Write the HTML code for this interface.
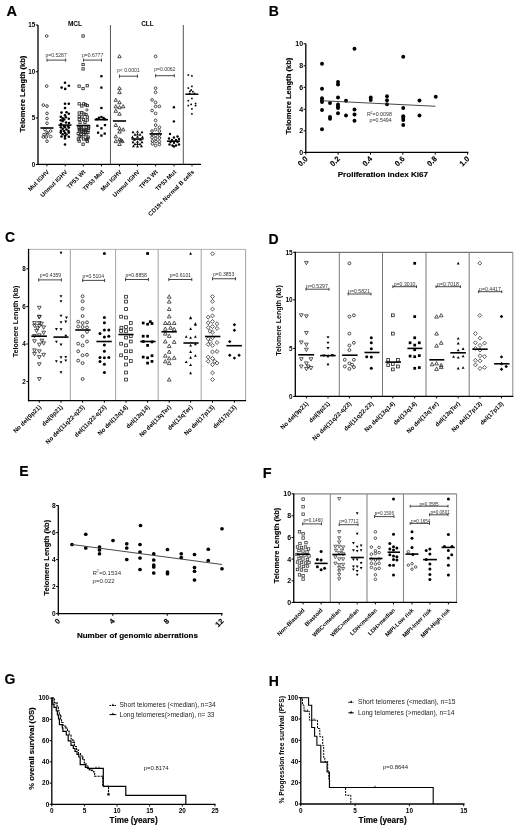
<!DOCTYPE html>
<html><head><meta charset="utf-8"><style>
html,body{margin:0;padding:0;background:#fff;}
svg{display:block;filter:blur(0.35px);}
text{font-family:"Liberation Sans", sans-serif;}
</style></head><body>
<svg width="520" height="828" viewBox="0 0 520 828">
<rect width="520" height="828" fill="#fff"/>
<text x="6.50" y="15.60" font-size="14.5" text-anchor="start" font-weight="bold" stroke="#000" stroke-width="0.15" fill="#000">A</text>
<line x1="38.00" y1="25.00" x2="38.00" y2="165.00" stroke="#000" stroke-width="1.3"/>
<line x1="37.40" y1="164.40" x2="201.00" y2="164.40" stroke="#000" stroke-width="1.3"/>
<line x1="110.45" y1="25.00" x2="110.45" y2="164.40" stroke="#555" stroke-width="1"/>
<line x1="183.30" y1="25.00" x2="183.30" y2="164.40" stroke="#555" stroke-width="1"/>
<line x1="35.80" y1="25.00" x2="38.00" y2="25.00" stroke="#000" stroke-width="1"/>
<text x="35.30" y="27.27" font-size="6.3" text-anchor="end" font-weight="bold" fill="#000">15</text>
<line x1="35.80" y1="71.75" x2="38.00" y2="71.75" stroke="#000" stroke-width="1"/>
<text x="35.30" y="74.02" font-size="6.3" text-anchor="end" font-weight="bold" fill="#000">10</text>
<line x1="35.80" y1="118.00" x2="38.00" y2="118.00" stroke="#000" stroke-width="1"/>
<text x="35.30" y="120.27" font-size="6.3" text-anchor="end" font-weight="bold" fill="#000">5</text>
<line x1="35.80" y1="164.50" x2="38.00" y2="164.50" stroke="#000" stroke-width="1"/>
<text x="35.30" y="166.77" font-size="6.3" text-anchor="end" font-weight="bold" fill="#000">0</text>
<text x="75.00" y="26.30" font-size="6.5" text-anchor="middle" font-weight="bold" fill="#000">MCL</text>
<text x="147.50" y="26.30" font-size="6.5" text-anchor="middle" font-weight="bold" fill="#000">CLL</text>
<line x1="46.90" y1="164.40" x2="46.90" y2="166.40" stroke="#000" stroke-width="1"/>
<text x="49.50" y="172.40" font-size="6.0" text-anchor="end" font-weight="bold" fill="#000" transform="rotate(-45 49.50 172.40)">Mut IGHV</text>
<line x1="65.20" y1="164.40" x2="65.20" y2="166.40" stroke="#000" stroke-width="1"/>
<text x="67.80" y="172.40" font-size="6.0" text-anchor="end" font-weight="bold" fill="#000" transform="rotate(-45 67.80 172.40)">Unmut IGHV</text>
<line x1="83.30" y1="164.40" x2="83.30" y2="166.40" stroke="#000" stroke-width="1"/>
<text x="85.90" y="172.40" font-size="6.0" text-anchor="end" font-weight="bold" fill="#000" transform="rotate(-45 85.90 172.40)">TP53 Wt</text>
<line x1="101.50" y1="164.40" x2="101.50" y2="166.40" stroke="#000" stroke-width="1"/>
<text x="104.10" y="172.40" font-size="6.0" text-anchor="end" font-weight="bold" fill="#000" transform="rotate(-45 104.10 172.40)">TP53 Mut</text>
<line x1="119.50" y1="164.40" x2="119.50" y2="166.40" stroke="#000" stroke-width="1"/>
<text x="122.10" y="172.40" font-size="6.0" text-anchor="end" font-weight="bold" fill="#000" transform="rotate(-45 122.10 172.40)">Mut IGHV</text>
<line x1="137.50" y1="164.40" x2="137.50" y2="166.40" stroke="#000" stroke-width="1"/>
<text x="140.10" y="172.40" font-size="6.0" text-anchor="end" font-weight="bold" fill="#000" transform="rotate(-45 140.10 172.40)">Unmut IGHV</text>
<line x1="155.60" y1="164.40" x2="155.60" y2="166.40" stroke="#000" stroke-width="1"/>
<text x="158.20" y="172.40" font-size="6.0" text-anchor="end" font-weight="bold" fill="#000" transform="rotate(-45 158.20 172.40)">TP53 Wt</text>
<line x1="174.00" y1="164.40" x2="174.00" y2="166.40" stroke="#000" stroke-width="1"/>
<text x="176.60" y="172.40" font-size="6.0" text-anchor="end" font-weight="bold" fill="#000" transform="rotate(-45 176.60 172.40)">TP53 Mut</text>
<line x1="192.00" y1="164.40" x2="192.00" y2="166.40" stroke="#000" stroke-width="1"/>
<text x="194.60" y="172.40" font-size="6.0" text-anchor="end" font-weight="bold" fill="#000" transform="rotate(-45 194.60 172.40)">CD19+ Normal B cells</text>
<circle cx="46.70" cy="36.00" r="1.35" fill="none" stroke="#222" stroke-width="0.8"/>
<circle cx="46.70" cy="86.10" r="1.35" fill="none" stroke="#222" stroke-width="0.8"/>
<circle cx="43.30" cy="105.10" r="1.35" fill="none" stroke="#222" stroke-width="0.8"/>
<circle cx="47.00" cy="106.10" r="1.35" fill="none" stroke="#222" stroke-width="0.8"/>
<circle cx="47.00" cy="113.40" r="1.35" fill="none" stroke="#222" stroke-width="0.8"/>
<circle cx="47.00" cy="118.50" r="1.35" fill="none" stroke="#222" stroke-width="0.8"/>
<circle cx="47.00" cy="123.30" r="1.35" fill="none" stroke="#222" stroke-width="0.8"/>
<circle cx="47.00" cy="132.40" r="1.35" fill="none" stroke="#222" stroke-width="0.8"/>
<circle cx="50.60" cy="131.00" r="1.35" fill="none" stroke="#222" stroke-width="0.8"/>
<circle cx="44.00" cy="134.60" r="1.35" fill="none" stroke="#222" stroke-width="0.8"/>
<circle cx="47.70" cy="133.90" r="1.35" fill="none" stroke="#222" stroke-width="0.8"/>
<circle cx="43.30" cy="137.00" r="1.35" fill="none" stroke="#222" stroke-width="0.8"/>
<circle cx="46.20" cy="137.00" r="1.35" fill="none" stroke="#222" stroke-width="0.8"/>
<circle cx="50.60" cy="136.50" r="1.35" fill="none" stroke="#222" stroke-width="0.8"/>
<circle cx="47.00" cy="141.20" r="1.35" fill="none" stroke="#222" stroke-width="0.8"/>
<circle cx="45.00" cy="129.50" r="1.35" fill="none" stroke="#222" stroke-width="0.8"/>
<line x1="40.40" y1="128.00" x2="53.50" y2="128.00" stroke="#000" stroke-width="1.6"/>
<circle cx="65.00" cy="82.70" r="1.30" fill="#000"/>
<circle cx="61.60" cy="87.60" r="1.30" fill="#000"/>
<circle cx="65.20" cy="88.90" r="1.30" fill="#000"/>
<circle cx="68.90" cy="85.70" r="1.30" fill="#000"/>
<circle cx="65.00" cy="103.80" r="1.30" fill="#000"/>
<circle cx="68.80" cy="103.80" r="1.30" fill="#000"/>
<circle cx="65.00" cy="108.00" r="1.30" fill="#000"/>
<circle cx="61.50" cy="112.60" r="1.30" fill="#000"/>
<circle cx="66.50" cy="112.20" r="1.30" fill="#000"/>
<circle cx="68.80" cy="113.80" r="1.30" fill="#000"/>
<circle cx="65.00" cy="115.30" r="1.30" fill="#000"/>
<circle cx="60.80" cy="116.80" r="1.30" fill="#000"/>
<circle cx="65.80" cy="117.20" r="1.30" fill="#000"/>
<circle cx="68.80" cy="118.80" r="1.30" fill="#000"/>
<circle cx="62.70" cy="118.40" r="1.30" fill="#000"/>
<circle cx="64.20" cy="119.50" r="1.30" fill="#000"/>
<circle cx="60.80" cy="120.30" r="1.30" fill="#000"/>
<circle cx="62.70" cy="121.10" r="1.30" fill="#000"/>
<circle cx="66.00" cy="122.50" r="1.30" fill="#000"/>
<circle cx="69.00" cy="123.00" r="1.30" fill="#000"/>
<circle cx="61.00" cy="124.00" r="1.30" fill="#000"/>
<circle cx="64.00" cy="126.00" r="1.30" fill="#000"/>
<circle cx="68.00" cy="126.00" r="1.30" fill="#000"/>
<circle cx="60.80" cy="127.20" r="1.30" fill="#000"/>
<circle cx="65.00" cy="127.20" r="1.30" fill="#000"/>
<circle cx="68.80" cy="127.60" r="1.30" fill="#000"/>
<circle cx="62.70" cy="128.80" r="1.30" fill="#000"/>
<circle cx="66.50" cy="129.50" r="1.30" fill="#000"/>
<circle cx="61.00" cy="130.80" r="1.30" fill="#000"/>
<circle cx="64.00" cy="131.00" r="1.30" fill="#000"/>
<circle cx="68.50" cy="131.00" r="1.30" fill="#000"/>
<circle cx="60.80" cy="132.60" r="1.30" fill="#000"/>
<circle cx="65.00" cy="133.00" r="1.30" fill="#000"/>
<circle cx="68.80" cy="132.60" r="1.30" fill="#000"/>
<circle cx="62.70" cy="134.20" r="1.30" fill="#000"/>
<circle cx="66.50" cy="134.50" r="1.30" fill="#000"/>
<circle cx="61.50" cy="136.50" r="1.30" fill="#000"/>
<circle cx="65.00" cy="136.10" r="1.30" fill="#000"/>
<circle cx="68.80" cy="136.80" r="1.30" fill="#000"/>
<circle cx="65.00" cy="138.40" r="1.30" fill="#000"/>
<circle cx="65.00" cy="144.50" r="1.30" fill="#000"/>
<line x1="58.50" y1="125.10" x2="71.50" y2="125.10" stroke="#000" stroke-width="1.6"/>
<rect x="81.95" y="34.85" width="2.30" height="2.30" fill="none" stroke="#222" stroke-width="0.8"/>
<rect x="81.95" y="63.35" width="2.30" height="2.30" fill="none" stroke="#222" stroke-width="0.8"/>
<rect x="81.95" y="67.75" width="2.30" height="2.30" fill="none" stroke="#222" stroke-width="0.8"/>
<rect x="77.95" y="84.95" width="2.30" height="2.30" fill="none" stroke="#222" stroke-width="0.8"/>
<rect x="81.95" y="87.45" width="2.30" height="2.30" fill="none" stroke="#222" stroke-width="0.8"/>
<rect x="86.05" y="84.55" width="2.30" height="2.30" fill="none" stroke="#222" stroke-width="0.8"/>
<rect x="78.05" y="102.65" width="2.30" height="2.30" fill="none" stroke="#222" stroke-width="0.8"/>
<rect x="80.65" y="104.85" width="2.30" height="2.30" fill="none" stroke="#222" stroke-width="0.8"/>
<rect x="82.65" y="102.65" width="2.30" height="2.30" fill="none" stroke="#222" stroke-width="0.8"/>
<rect x="84.45" y="103.65" width="2.30" height="2.30" fill="none" stroke="#222" stroke-width="0.8"/>
<rect x="86.15" y="104.35" width="2.30" height="2.30" fill="none" stroke="#222" stroke-width="0.8"/>
<rect x="78.05" y="111.85" width="2.30" height="2.30" fill="none" stroke="#222" stroke-width="0.8"/>
<rect x="80.65" y="111.45" width="2.30" height="2.30" fill="none" stroke="#222" stroke-width="0.8"/>
<rect x="82.85" y="112.85" width="2.30" height="2.30" fill="none" stroke="#222" stroke-width="0.8"/>
<rect x="84.85" y="113.35" width="2.30" height="2.30" fill="none" stroke="#222" stroke-width="0.8"/>
<rect x="78.05" y="115.35" width="2.30" height="2.30" fill="none" stroke="#222" stroke-width="0.8"/>
<rect x="80.85" y="115.85" width="2.30" height="2.30" fill="none" stroke="#222" stroke-width="0.8"/>
<rect x="86.15" y="115.85" width="2.30" height="2.30" fill="none" stroke="#222" stroke-width="0.8"/>
<rect x="78.05" y="118.35" width="2.30" height="2.30" fill="none" stroke="#222" stroke-width="0.8"/>
<rect x="82.35" y="118.35" width="2.30" height="2.30" fill="none" stroke="#222" stroke-width="0.8"/>
<rect x="86.15" y="118.85" width="2.30" height="2.30" fill="none" stroke="#222" stroke-width="0.8"/>
<rect x="78.85" y="121.35" width="2.30" height="2.30" fill="none" stroke="#222" stroke-width="0.8"/>
<rect x="83.85" y="121.35" width="2.30" height="2.30" fill="none" stroke="#222" stroke-width="0.8"/>
<rect x="78.05" y="139.95" width="2.30" height="2.30" fill="none" stroke="#222" stroke-width="0.8"/>
<rect x="86.15" y="140.35" width="2.30" height="2.30" fill="none" stroke="#222" stroke-width="0.8"/>
<rect x="81.95" y="143.05" width="2.30" height="2.30" fill="none" stroke="#222" stroke-width="0.8"/>
<rect x="77.81" y="126.29" width="2.30" height="2.30" fill="none" stroke="#222" stroke-width="0.8"/>
<rect x="80.23" y="126.40" width="2.30" height="2.30" fill="none" stroke="#222" stroke-width="0.8"/>
<rect x="85.03" y="126.01" width="2.30" height="2.30" fill="none" stroke="#222" stroke-width="0.8"/>
<rect x="87.61" y="125.89" width="2.30" height="2.30" fill="none" stroke="#222" stroke-width="0.8"/>
<rect x="78.18" y="128.04" width="2.30" height="2.30" fill="none" stroke="#222" stroke-width="0.8"/>
<rect x="79.82" y="127.84" width="2.30" height="2.30" fill="none" stroke="#222" stroke-width="0.8"/>
<rect x="82.58" y="128.18" width="2.30" height="2.30" fill="none" stroke="#222" stroke-width="0.8"/>
<rect x="85.27" y="128.45" width="2.30" height="2.30" fill="none" stroke="#222" stroke-width="0.8"/>
<rect x="87.27" y="127.31" width="2.30" height="2.30" fill="none" stroke="#222" stroke-width="0.8"/>
<rect x="78.23" y="129.55" width="2.30" height="2.30" fill="none" stroke="#222" stroke-width="0.8"/>
<rect x="80.53" y="130.20" width="2.30" height="2.30" fill="none" stroke="#222" stroke-width="0.8"/>
<rect x="82.24" y="129.49" width="2.30" height="2.30" fill="none" stroke="#222" stroke-width="0.8"/>
<rect x="84.26" y="129.88" width="2.30" height="2.30" fill="none" stroke="#222" stroke-width="0.8"/>
<rect x="86.92" y="129.41" width="2.30" height="2.30" fill="none" stroke="#222" stroke-width="0.8"/>
<rect x="77.09" y="132.37" width="2.30" height="2.30" fill="none" stroke="#222" stroke-width="0.8"/>
<rect x="82.00" y="131.36" width="2.30" height="2.30" fill="none" stroke="#222" stroke-width="0.8"/>
<rect x="84.63" y="131.23" width="2.30" height="2.30" fill="none" stroke="#222" stroke-width="0.8"/>
<rect x="86.69" y="131.42" width="2.30" height="2.30" fill="none" stroke="#222" stroke-width="0.8"/>
<rect x="80.02" y="133.65" width="2.30" height="2.30" fill="none" stroke="#222" stroke-width="0.8"/>
<rect x="82.79" y="133.58" width="2.30" height="2.30" fill="none" stroke="#222" stroke-width="0.8"/>
<rect x="84.83" y="133.68" width="2.30" height="2.30" fill="none" stroke="#222" stroke-width="0.8"/>
<rect x="78.10" y="135.17" width="2.30" height="2.30" fill="none" stroke="#222" stroke-width="0.8"/>
<rect x="79.98" y="135.59" width="2.30" height="2.30" fill="none" stroke="#222" stroke-width="0.8"/>
<rect x="87.04" y="136.01" width="2.30" height="2.30" fill="none" stroke="#222" stroke-width="0.8"/>
<rect x="77.15" y="137.99" width="2.30" height="2.30" fill="none" stroke="#222" stroke-width="0.8"/>
<rect x="82.36" y="137.86" width="2.30" height="2.30" fill="none" stroke="#222" stroke-width="0.8"/>
<rect x="85.30" y="138.50" width="2.30" height="2.30" fill="none" stroke="#222" stroke-width="0.8"/>
<rect x="86.47" y="137.71" width="2.30" height="2.30" fill="none" stroke="#222" stroke-width="0.8"/>
<circle cx="86.90" cy="109.90" r="1.10" fill="none" stroke="#222" stroke-width="0.8"/>
<line x1="76.50" y1="125.50" x2="90.10" y2="125.50" stroke="#000" stroke-width="1.6"/>
<rect x="100.26" y="75.06" width="2.28" height="2.28" fill="#000"/>
<rect x="100.26" y="86.46" width="2.28" height="2.28" fill="#000"/>
<rect x="100.26" y="106.86" width="2.28" height="2.28" fill="#000"/>
<rect x="100.26" y="115.86" width="2.28" height="2.28" fill="#000"/>
<rect x="95.56" y="118.06" width="2.28" height="2.28" fill="#000"/>
<rect x="103.56" y="118.06" width="2.28" height="2.28" fill="#000"/>
<rect x="97.86" y="116.66" width="2.28" height="2.28" fill="#000"/>
<rect x="102.36" y="116.86" width="2.28" height="2.28" fill="#000"/>
<rect x="96.26" y="124.66" width="2.28" height="2.28" fill="#000"/>
<rect x="103.86" y="123.96" width="2.28" height="2.28" fill="#000"/>
<rect x="100.26" y="127.16" width="2.28" height="2.28" fill="#000"/>
<rect x="96.96" y="131.56" width="2.28" height="2.28" fill="#000"/>
<rect x="103.56" y="132.46" width="2.28" height="2.28" fill="#000"/>
<rect x="100.26" y="134.46" width="2.28" height="2.28" fill="#000"/>
<line x1="94.50" y1="119.70" x2="108.00" y2="119.70" stroke="#000" stroke-width="1.6"/>
<polygon points="117.74,57.81 121.26,57.81 119.50,54.64" fill="none" stroke="#222" stroke-width="0.8"/>
<polygon points="117.74,89.61 121.26,89.61 119.50,86.44" fill="none" stroke="#222" stroke-width="0.8"/>
<polygon points="117.74,93.71 121.26,93.71 119.50,90.54" fill="none" stroke="#222" stroke-width="0.8"/>
<polygon points="114.04,101.31 117.56,101.31 115.80,98.14" fill="none" stroke="#222" stroke-width="0.8"/>
<polygon points="117.74,103.81 121.26,103.81 119.50,100.64" fill="none" stroke="#222" stroke-width="0.8"/>
<polygon points="114.04,107.81 117.56,107.81 115.80,104.64" fill="none" stroke="#222" stroke-width="0.8"/>
<polygon points="117.74,108.71 121.26,108.71 119.50,105.54" fill="none" stroke="#222" stroke-width="0.8"/>
<polygon points="121.44,107.81 124.96,107.81 123.20,104.64" fill="none" stroke="#222" stroke-width="0.8"/>
<polygon points="114.04,112.31 117.56,112.31 115.80,109.14" fill="none" stroke="#222" stroke-width="0.8"/>
<polygon points="117.74,115.21 121.26,115.21 119.50,112.04" fill="none" stroke="#222" stroke-width="0.8"/>
<polygon points="114.04,126.51 117.56,126.51 115.80,123.34" fill="none" stroke="#222" stroke-width="0.8"/>
<polygon points="117.74,129.71 121.26,129.71 119.50,126.54" fill="none" stroke="#222" stroke-width="0.8"/>
<polygon points="121.44,130.91 124.96,130.91 123.20,127.74" fill="none" stroke="#222" stroke-width="0.8"/>
<polygon points="117.74,133.11 121.26,133.11 119.50,129.94" fill="none" stroke="#222" stroke-width="0.8"/>
<polygon points="114.04,137.91 117.56,137.91 115.80,134.74" fill="none" stroke="#222" stroke-width="0.8"/>
<polygon points="117.74,140.81 121.26,140.81 119.50,137.64" fill="none" stroke="#222" stroke-width="0.8"/>
<polygon points="120.64,142.61 124.16,142.61 122.40,139.44" fill="none" stroke="#222" stroke-width="0.8"/>
<polygon points="114.04,142.61 117.56,142.61 115.80,139.44" fill="none" stroke="#222" stroke-width="0.8"/>
<polygon points="117.74,145.51 121.26,145.51 119.50,142.34" fill="none" stroke="#222" stroke-width="0.8"/>
<polygon points="119.24,141.41 122.76,141.41 121.00,138.24" fill="none" stroke="#222" stroke-width="0.8"/>
<line x1="112.90" y1="121.00" x2="126.10" y2="121.00" stroke="#000" stroke-width="1.6"/>
<polygon points="131.57,133.14 134.43,133.14 133.00,130.57" fill="#000"/>
<polygon points="136.07,132.84 138.93,132.84 137.50,130.27" fill="#000"/>
<polygon points="140.57,133.14 143.43,133.14 142.00,130.57" fill="#000"/>
<polygon points="133.57,135.64 136.43,135.64 135.00,133.07" fill="#000"/>
<polygon points="138.57,135.64 141.43,135.64 140.00,133.07" fill="#000"/>
<polygon points="131.07,138.14 133.93,138.14 132.50,135.57" fill="#000"/>
<polygon points="136.07,137.64 138.93,137.64 137.50,135.07" fill="#000"/>
<polygon points="141.07,138.14 143.93,138.14 142.50,135.57" fill="#000"/>
<polygon points="133.07,140.64 135.93,140.64 134.50,138.07" fill="#000"/>
<polygon points="139.07,140.64 141.93,140.64 140.50,138.07" fill="#000"/>
<polygon points="131.57,143.14 134.43,143.14 133.00,140.57" fill="#000"/>
<polygon points="136.07,142.64 138.93,142.64 137.50,140.07" fill="#000"/>
<polygon points="140.57,143.14 143.43,143.14 142.00,140.57" fill="#000"/>
<polygon points="133.57,145.14 136.43,145.14 135.00,142.57" fill="#000"/>
<polygon points="138.57,145.14 141.43,145.14 140.00,142.57" fill="#000"/>
<polygon points="132.07,147.14 134.93,147.14 133.50,144.57" fill="#000"/>
<polygon points="136.07,147.44 138.93,147.44 137.50,144.87" fill="#000"/>
<polygon points="140.07,147.14 142.93,147.14 141.50,144.57" fill="#000"/>
<polygon points="136.07,135.34 138.93,135.34 137.50,132.77" fill="#000"/>
<polygon points="136.07,144.94 138.93,144.94 137.50,142.37" fill="#000"/>
<line x1="131.50" y1="139.00" x2="143.50" y2="139.00" stroke="#000" stroke-width="1.6"/>
<circle cx="155.60" cy="56.40" r="1.35" fill="none" stroke="#222" stroke-width="0.8"/>
<circle cx="155.60" cy="88.20" r="1.35" fill="none" stroke="#222" stroke-width="0.8"/>
<circle cx="155.60" cy="92.30" r="1.35" fill="none" stroke="#222" stroke-width="0.8"/>
<circle cx="152.10" cy="99.90" r="1.35" fill="none" stroke="#222" stroke-width="0.8"/>
<circle cx="155.60" cy="102.40" r="1.35" fill="none" stroke="#222" stroke-width="0.8"/>
<circle cx="155.60" cy="106.40" r="1.35" fill="none" stroke="#222" stroke-width="0.8"/>
<circle cx="159.40" cy="106.40" r="1.35" fill="none" stroke="#222" stroke-width="0.8"/>
<circle cx="152.10" cy="110.50" r="1.35" fill="none" stroke="#222" stroke-width="0.8"/>
<circle cx="155.60" cy="113.40" r="1.35" fill="none" stroke="#222" stroke-width="0.8"/>
<circle cx="155.60" cy="120.40" r="1.35" fill="none" stroke="#222" stroke-width="0.8"/>
<circle cx="155.60" cy="125.10" r="1.35" fill="none" stroke="#222" stroke-width="0.8"/>
<circle cx="159.40" cy="127.30" r="1.35" fill="none" stroke="#222" stroke-width="0.8"/>
<circle cx="155.60" cy="129.50" r="1.35" fill="none" stroke="#222" stroke-width="0.8"/>
<circle cx="152.00" cy="131.00" r="1.35" fill="none" stroke="#222" stroke-width="0.8"/>
<circle cx="159.40" cy="131.00" r="1.35" fill="none" stroke="#222" stroke-width="0.8"/>
<circle cx="152.00" cy="134.50" r="1.35" fill="none" stroke="#222" stroke-width="0.8"/>
<circle cx="155.60" cy="135.50" r="1.35" fill="none" stroke="#222" stroke-width="0.8"/>
<circle cx="159.40" cy="135.00" r="1.35" fill="none" stroke="#222" stroke-width="0.8"/>
<circle cx="152.00" cy="137.50" r="1.35" fill="none" stroke="#222" stroke-width="0.8"/>
<circle cx="155.60" cy="138.50" r="1.35" fill="none" stroke="#222" stroke-width="0.8"/>
<circle cx="159.40" cy="138.00" r="1.35" fill="none" stroke="#222" stroke-width="0.8"/>
<circle cx="152.50" cy="141.00" r="1.35" fill="none" stroke="#222" stroke-width="0.8"/>
<circle cx="156.00" cy="141.50" r="1.35" fill="none" stroke="#222" stroke-width="0.8"/>
<circle cx="159.40" cy="141.50" r="1.35" fill="none" stroke="#222" stroke-width="0.8"/>
<circle cx="152.50" cy="143.80" r="1.35" fill="none" stroke="#222" stroke-width="0.8"/>
<circle cx="155.60" cy="145.50" r="1.35" fill="none" stroke="#222" stroke-width="0.8"/>
<circle cx="159.40" cy="144.50" r="1.35" fill="none" stroke="#222" stroke-width="0.8"/>
<line x1="149.50" y1="133.90" x2="161.90" y2="133.90" stroke="#000" stroke-width="1.6"/>
<circle cx="173.90" cy="107.30" r="1.20" fill="#000"/>
<circle cx="173.90" cy="121.40" r="1.20" fill="#000"/>
<circle cx="170.00" cy="133.90" r="1.20" fill="#000"/>
<circle cx="177.50" cy="136.50" r="1.20" fill="#000"/>
<circle cx="173.90" cy="137.50" r="1.20" fill="#000"/>
<circle cx="169.00" cy="138.50" r="1.20" fill="#000"/>
<circle cx="172.00" cy="140.00" r="1.20" fill="#000"/>
<circle cx="176.00" cy="140.00" r="1.20" fill="#000"/>
<circle cx="179.00" cy="139.00" r="1.20" fill="#000"/>
<circle cx="170.50" cy="142.00" r="1.20" fill="#000"/>
<circle cx="174.00" cy="142.80" r="1.20" fill="#000"/>
<circle cx="177.50" cy="142.00" r="1.20" fill="#000"/>
<circle cx="169.50" cy="144.50" r="1.20" fill="#000"/>
<circle cx="172.50" cy="145.50" r="1.20" fill="#000"/>
<circle cx="176.00" cy="145.50" r="1.20" fill="#000"/>
<circle cx="179.00" cy="144.50" r="1.20" fill="#000"/>
<circle cx="174.00" cy="146.50" r="1.20" fill="#000"/>
<line x1="167.00" y1="141.20" x2="180.00" y2="141.20" stroke="#000" stroke-width="1.6"/>
<rect x="187.49" y="74.19" width="1.61" height="1.61" fill="#000"/>
<rect x="191.09" y="75.09" width="1.61" height="1.61" fill="#000"/>
<rect x="191.09" y="85.59" width="1.61" height="1.61" fill="#000"/>
<rect x="187.49" y="87.29" width="1.61" height="1.61" fill="#000"/>
<rect x="189.19" y="90.49" width="1.61" height="1.61" fill="#000"/>
<rect x="192.09" y="90.89" width="1.61" height="1.61" fill="#000"/>
<rect x="190.39" y="89.19" width="1.61" height="1.61" fill="#000"/>
<rect x="191.09" y="97.69" width="1.61" height="1.61" fill="#000"/>
<rect x="187.49" y="99.89" width="1.61" height="1.61" fill="#000"/>
<rect x="187.49" y="104.79" width="1.61" height="1.61" fill="#000"/>
<rect x="190.39" y="103.59" width="1.61" height="1.61" fill="#000"/>
<rect x="194.79" y="102.69" width="1.61" height="1.61" fill="#000"/>
<rect x="194.79" y="104.79" width="1.61" height="1.61" fill="#000"/>
<rect x="191.09" y="108.09" width="1.61" height="1.61" fill="#000"/>
<rect x="191.09" y="113.09" width="1.61" height="1.61" fill="#000"/>
<rect x="188.69" y="92.69" width="1.61" height="1.61" fill="#000"/>
<rect x="193.69" y="92.69" width="1.61" height="1.61" fill="#000"/>
<line x1="185.30" y1="94.20" x2="198.40" y2="94.20" stroke="#000" stroke-width="1.5"/>
<text x="45.50" y="56.80" font-size="5.05" text-anchor="start" fill="#333">p=0.5287</text>
<line x1="47.00" y1="60.10" x2="65.70" y2="60.10" stroke="#333" stroke-width="0.9"/>
<line x1="47.00" y1="58.50" x2="47.00" y2="61.70" stroke="#333" stroke-width="0.9"/>
<line x1="65.70" y1="58.50" x2="65.70" y2="61.70" stroke="#333" stroke-width="0.9"/>
<text x="82.00" y="56.80" font-size="5.05" text-anchor="start" fill="#333">p=0.6777</text>
<line x1="83.50" y1="60.10" x2="101.50" y2="60.10" stroke="#333" stroke-width="0.9"/>
<line x1="83.50" y1="58.50" x2="83.50" y2="61.70" stroke="#333" stroke-width="0.9"/>
<line x1="101.50" y1="58.50" x2="101.50" y2="61.70" stroke="#333" stroke-width="0.9"/>
<text x="117.00" y="72.40" font-size="5.05" text-anchor="start" fill="#333">p&lt; 0.0001</text>
<line x1="119.50" y1="76.20" x2="137.50" y2="76.20" stroke="#333" stroke-width="0.9"/>
<line x1="119.50" y1="74.60" x2="119.50" y2="77.80" stroke="#333" stroke-width="0.9"/>
<line x1="137.50" y1="74.60" x2="137.50" y2="77.80" stroke="#333" stroke-width="0.9"/>
<text x="154.20" y="71.40" font-size="5.05" text-anchor="start" fill="#333">p=0.0062</text>
<line x1="155.60" y1="75.70" x2="174.30" y2="75.70" stroke="#333" stroke-width="0.9"/>
<line x1="155.60" y1="74.10" x2="155.60" y2="77.30" stroke="#333" stroke-width="0.9"/>
<line x1="174.30" y1="74.10" x2="174.30" y2="77.30" stroke="#333" stroke-width="0.9"/>
<text x="25.30" y="94.00" font-size="7.6" text-anchor="middle" font-weight="bold" stroke="#000" stroke-width="0.15" fill="#000" transform="rotate(-90 25.30 94.00)">Telomere Length (kb)</text>
<text x="268.80" y="15.60" font-size="14" text-anchor="start" font-weight="bold" stroke="#000" stroke-width="0.15" fill="#000">B</text>
<line x1="305.80" y1="43.50" x2="305.80" y2="153.05" stroke="#000" stroke-width="1.3"/>
<line x1="305.20" y1="152.45" x2="468.50" y2="152.45" stroke="#000" stroke-width="1.3"/>
<line x1="303.60" y1="43.80" x2="305.80" y2="43.80" stroke="#000" stroke-width="1"/>
<text x="303.10" y="46.32" font-size="7.0" text-anchor="end" font-weight="bold" fill="#000">10</text>
<line x1="303.60" y1="65.80" x2="305.80" y2="65.80" stroke="#000" stroke-width="1"/>
<text x="303.10" y="68.32" font-size="7.0" text-anchor="end" font-weight="bold" fill="#000">8</text>
<line x1="303.60" y1="87.30" x2="305.80" y2="87.30" stroke="#000" stroke-width="1"/>
<text x="303.10" y="89.82" font-size="7.0" text-anchor="end" font-weight="bold" fill="#000">6</text>
<line x1="303.60" y1="109.30" x2="305.80" y2="109.30" stroke="#000" stroke-width="1"/>
<text x="303.10" y="111.82" font-size="7.0" text-anchor="end" font-weight="bold" fill="#000">4</text>
<line x1="303.60" y1="130.80" x2="305.80" y2="130.80" stroke="#000" stroke-width="1"/>
<text x="303.10" y="133.32" font-size="7.0" text-anchor="end" font-weight="bold" fill="#000">2</text>
<line x1="303.60" y1="152.45" x2="305.80" y2="152.45" stroke="#000" stroke-width="1"/>
<text x="303.10" y="154.97" font-size="7.0" text-anchor="end" font-weight="bold" fill="#000">0</text>
<line x1="305.80" y1="152.45" x2="305.80" y2="154.65" stroke="#000" stroke-width="1"/>
<text x="308.10" y="159.35" font-size="7.5" text-anchor="end" font-weight="bold" stroke="#000" stroke-width="0.15" fill="#000" transform="rotate(-45 308.10 159.35)">0.0</text>
<line x1="338.15" y1="152.45" x2="338.15" y2="154.65" stroke="#000" stroke-width="1"/>
<text x="340.45" y="159.35" font-size="7.5" text-anchor="end" font-weight="bold" stroke="#000" stroke-width="0.15" fill="#000" transform="rotate(-45 340.45 159.35)">0.2</text>
<line x1="370.50" y1="152.45" x2="370.50" y2="154.65" stroke="#000" stroke-width="1"/>
<text x="372.80" y="159.35" font-size="7.5" text-anchor="end" font-weight="bold" stroke="#000" stroke-width="0.15" fill="#000" transform="rotate(-45 372.80 159.35)">0.4</text>
<line x1="402.85" y1="152.45" x2="402.85" y2="154.65" stroke="#000" stroke-width="1"/>
<text x="405.15" y="159.35" font-size="7.5" text-anchor="end" font-weight="bold" stroke="#000" stroke-width="0.15" fill="#000" transform="rotate(-45 405.15 159.35)">0.6</text>
<line x1="435.20" y1="152.45" x2="435.20" y2="154.65" stroke="#000" stroke-width="1"/>
<text x="437.50" y="159.35" font-size="7.5" text-anchor="end" font-weight="bold" stroke="#000" stroke-width="0.15" fill="#000" transform="rotate(-45 437.50 159.35)">0.8</text>
<line x1="467.55" y1="152.45" x2="467.55" y2="154.65" stroke="#000" stroke-width="1"/>
<text x="469.85" y="159.35" font-size="7.5" text-anchor="end" font-weight="bold" stroke="#000" stroke-width="0.15" fill="#000" transform="rotate(-45 469.85 159.35)">1.0</text>
<text x="382.90" y="177.30" font-size="8.1" text-anchor="middle" font-weight="bold" stroke="#000" stroke-width="0.15" fill="#000">Proliferation index Ki67</text>
<text x="291.10" y="96.00" font-size="7.6" text-anchor="middle" font-weight="bold" stroke="#000" stroke-width="0.15" fill="#000" transform="rotate(-90 291.10 96.00)">Telomere Length (kb)</text>
<circle cx="322.00" cy="63.75" r="1.95" fill="#000"/>
<circle cx="354.50" cy="48.75" r="1.95" fill="#000"/>
<circle cx="322.00" cy="88.75" r="1.95" fill="#000"/>
<circle cx="322.00" cy="98.25" r="1.95" fill="#000"/>
<circle cx="322.00" cy="100.50" r="1.95" fill="#000"/>
<circle cx="322.00" cy="102.00" r="1.95" fill="#000"/>
<circle cx="322.00" cy="110.00" r="1.95" fill="#000"/>
<circle cx="322.00" cy="129.25" r="1.95" fill="#000"/>
<circle cx="330.00" cy="103.00" r="1.95" fill="#000"/>
<circle cx="330.00" cy="117.00" r="1.95" fill="#000"/>
<circle cx="330.00" cy="118.75" r="1.95" fill="#000"/>
<circle cx="338.00" cy="82.00" r="1.95" fill="#000"/>
<circle cx="338.00" cy="84.50" r="1.95" fill="#000"/>
<circle cx="338.00" cy="97.50" r="1.95" fill="#000"/>
<circle cx="338.00" cy="104.50" r="1.95" fill="#000"/>
<circle cx="338.00" cy="106.50" r="1.95" fill="#000"/>
<circle cx="338.00" cy="108.00" r="1.95" fill="#000"/>
<circle cx="338.00" cy="113.25" r="1.95" fill="#000"/>
<circle cx="346.00" cy="100.75" r="1.95" fill="#000"/>
<circle cx="346.00" cy="115.50" r="1.95" fill="#000"/>
<circle cx="354.50" cy="109.50" r="1.95" fill="#000"/>
<circle cx="354.50" cy="114.50" r="1.95" fill="#000"/>
<circle cx="354.50" cy="120.75" r="1.95" fill="#000"/>
<circle cx="370.75" cy="97.50" r="1.95" fill="#000"/>
<circle cx="370.75" cy="100.00" r="1.95" fill="#000"/>
<circle cx="387.00" cy="96.25" r="1.95" fill="#000"/>
<circle cx="387.00" cy="100.25" r="1.95" fill="#000"/>
<circle cx="387.00" cy="104.25" r="1.95" fill="#000"/>
<circle cx="403.25" cy="56.75" r="1.95" fill="#000"/>
<circle cx="403.25" cy="108.00" r="1.95" fill="#000"/>
<circle cx="403.25" cy="116.25" r="1.95" fill="#000"/>
<circle cx="403.25" cy="118.00" r="1.95" fill="#000"/>
<circle cx="403.25" cy="120.00" r="1.95" fill="#000"/>
<circle cx="403.25" cy="125.00" r="1.95" fill="#000"/>
<circle cx="419.50" cy="100.50" r="1.95" fill="#000"/>
<circle cx="419.50" cy="115.50" r="1.95" fill="#000"/>
<circle cx="435.75" cy="96.75" r="1.95" fill="#000"/>
<line x1="322.00" y1="100.75" x2="435.50" y2="106.25" stroke="#333" stroke-width="0.9"/>
<text x="367.00" y="116.30" font-size="5.3" text-anchor="start" fill="#333">R</text>
<text x="370.60" y="113.80" font-size="3.5" text-anchor="start" fill="#333">2</text>
<text x="372.60" y="116.30" font-size="5.3" text-anchor="start" fill="#333">=0.0098</text>
<text x="369.50" y="122.00" font-size="5.3" text-anchor="start" fill="#333">p=0.5494</text>
<text x="5.00" y="242.20" font-size="14" text-anchor="start" font-weight="bold" stroke="#000" stroke-width="0.15" fill="#000">C</text>
<line x1="28.55" y1="249.40" x2="245.60" y2="249.40" stroke="#aaa" stroke-width="0.9"/>
<line x1="245.60" y1="249.40" x2="245.60" y2="400.70" stroke="#999" stroke-width="0.9"/>
<line x1="70.30" y1="249.40" x2="70.30" y2="400.70" stroke="#999" stroke-width="0.9"/>
<line x1="115.60" y1="249.40" x2="115.60" y2="400.70" stroke="#999" stroke-width="0.9"/>
<line x1="158.20" y1="249.40" x2="158.20" y2="400.70" stroke="#999" stroke-width="0.9"/>
<line x1="201.20" y1="249.40" x2="201.20" y2="400.70" stroke="#999" stroke-width="0.9"/>
<line x1="28.55" y1="248.90" x2="28.55" y2="401.30" stroke="#000" stroke-width="1.3"/>
<line x1="27.95" y1="400.70" x2="246.10" y2="400.70" stroke="#000" stroke-width="1.3"/>
<line x1="26.35" y1="268.80" x2="28.55" y2="268.80" stroke="#000" stroke-width="1"/>
<text x="25.85" y="271.07" font-size="6.3" text-anchor="end" font-weight="bold" fill="#000">8</text>
<line x1="26.35" y1="306.50" x2="28.55" y2="306.50" stroke="#000" stroke-width="1"/>
<text x="25.85" y="308.77" font-size="6.3" text-anchor="end" font-weight="bold" fill="#000">6</text>
<line x1="26.35" y1="344.00" x2="28.55" y2="344.00" stroke="#000" stroke-width="1"/>
<text x="25.85" y="346.27" font-size="6.3" text-anchor="end" font-weight="bold" fill="#000">4</text>
<line x1="26.35" y1="381.60" x2="28.55" y2="381.60" stroke="#000" stroke-width="1"/>
<text x="25.85" y="383.87" font-size="6.3" text-anchor="end" font-weight="bold" fill="#000">2</text>
<text x="18.00" y="321.40" font-size="7.1" text-anchor="middle" font-weight="bold" fill="#000" transform="rotate(-90 18.00 321.40)">Telomere Length (kb)</text>
<line x1="39.30" y1="400.70" x2="39.30" y2="402.70" stroke="#000" stroke-width="1"/>
<text x="41.60" y="407.50" font-size="6.1" text-anchor="end" font-weight="bold" fill="#000" transform="rotate(-45 41.60 407.50)">No del(9p21)</text>
<line x1="61.00" y1="400.70" x2="61.00" y2="402.70" stroke="#000" stroke-width="1"/>
<text x="63.30" y="407.50" font-size="6.1" text-anchor="end" font-weight="bold" fill="#000" transform="rotate(-45 63.30 407.50)">del(9p21)</text>
<line x1="82.60" y1="400.70" x2="82.60" y2="402.70" stroke="#000" stroke-width="1"/>
<text x="84.90" y="407.50" font-size="6.1" text-anchor="end" font-weight="bold" fill="#000" transform="rotate(-45 84.90 407.50)">No del(11q22-q23)</text>
<line x1="104.40" y1="400.70" x2="104.40" y2="402.70" stroke="#000" stroke-width="1"/>
<text x="106.70" y="407.50" font-size="6.1" text-anchor="end" font-weight="bold" fill="#000" transform="rotate(-45 106.70 407.50)">del(11q22-q23)</text>
<line x1="126.00" y1="400.70" x2="126.00" y2="402.70" stroke="#000" stroke-width="1"/>
<text x="128.30" y="407.50" font-size="6.1" text-anchor="end" font-weight="bold" fill="#000" transform="rotate(-45 128.30 407.50)">No del(13q14)</text>
<line x1="147.60" y1="400.70" x2="147.60" y2="402.70" stroke="#000" stroke-width="1"/>
<text x="149.90" y="407.50" font-size="6.1" text-anchor="end" font-weight="bold" fill="#000" transform="rotate(-45 149.90 407.50)">del(13q14)</text>
<line x1="169.20" y1="400.70" x2="169.20" y2="402.70" stroke="#000" stroke-width="1"/>
<text x="171.50" y="407.50" font-size="6.1" text-anchor="end" font-weight="bold" fill="#000" transform="rotate(-45 171.50 407.50)">No del(13qTer)</text>
<line x1="190.60" y1="400.70" x2="190.60" y2="402.70" stroke="#000" stroke-width="1"/>
<text x="192.90" y="407.50" font-size="6.1" text-anchor="end" font-weight="bold" fill="#000" transform="rotate(-45 192.90 407.50)">del(13qTer)</text>
<line x1="212.50" y1="400.70" x2="212.50" y2="402.70" stroke="#000" stroke-width="1"/>
<text x="214.80" y="407.50" font-size="6.1" text-anchor="end" font-weight="bold" fill="#000" transform="rotate(-45 214.80 407.50)">No del(17p13)</text>
<line x1="234.40" y1="400.70" x2="234.40" y2="402.70" stroke="#000" stroke-width="1"/>
<text x="236.70" y="407.50" font-size="6.1" text-anchor="end" font-weight="bold" fill="#000" transform="rotate(-45 236.70 407.50)">del(17p13)</text>
<polygon points="37.43,306.30 41.17,306.30 39.30,309.67" fill="none" stroke="#222" stroke-width="0.75"/>
<polygon points="37.43,315.20 41.17,315.20 39.30,318.57" fill="none" stroke="#222" stroke-width="0.75"/>
<polygon points="37.43,315.60 41.17,315.60 39.30,318.97" fill="none" stroke="#222" stroke-width="0.75"/>
<polygon points="32.63,321.50 36.37,321.50 34.50,324.87" fill="none" stroke="#222" stroke-width="0.75"/>
<polygon points="37.43,321.50 41.17,321.50 39.30,324.87" fill="none" stroke="#222" stroke-width="0.75"/>
<polygon points="39.63,322.30 43.37,322.30 41.50,325.67" fill="none" stroke="#222" stroke-width="0.75"/>
<polygon points="32.63,324.10 36.37,324.10 34.50,327.47" fill="none" stroke="#222" stroke-width="0.75"/>
<polygon points="37.43,324.50 41.17,324.50 39.30,327.87" fill="none" stroke="#222" stroke-width="0.75"/>
<polygon points="41.83,325.90 45.57,325.90 43.70,329.27" fill="none" stroke="#222" stroke-width="0.75"/>
<polygon points="35.63,326.80 39.37,326.80 37.50,330.17" fill="none" stroke="#222" stroke-width="0.75"/>
<polygon points="34.73,329.40 38.47,329.40 36.60,332.77" fill="none" stroke="#222" stroke-width="0.75"/>
<polygon points="41.83,331.20 45.57,331.20 43.70,334.57" fill="none" stroke="#222" stroke-width="0.75"/>
<polygon points="37.43,333.80 41.17,333.80 39.30,337.17" fill="none" stroke="#222" stroke-width="0.75"/>
<polygon points="32.63,334.50 36.37,334.50 34.50,337.87" fill="none" stroke="#222" stroke-width="0.75"/>
<polygon points="32.63,339.70 36.37,339.70 34.50,343.07" fill="none" stroke="#222" stroke-width="0.75"/>
<polygon points="40.03,339.20 43.77,339.20 41.90,342.57" fill="none" stroke="#222" stroke-width="0.75"/>
<polygon points="41.83,341.80 45.57,341.80 43.70,345.17" fill="none" stroke="#222" stroke-width="0.75"/>
<polygon points="37.43,343.20 41.17,343.20 39.30,346.57" fill="none" stroke="#222" stroke-width="0.75"/>
<polygon points="32.63,348.90 36.37,348.90 34.50,352.27" fill="none" stroke="#222" stroke-width="0.75"/>
<polygon points="37.43,349.80 41.17,349.80 39.30,353.17" fill="none" stroke="#222" stroke-width="0.75"/>
<polygon points="32.63,352.40 36.37,352.40 34.50,355.77" fill="none" stroke="#222" stroke-width="0.75"/>
<polygon points="41.83,353.30 45.57,353.30 43.70,356.67" fill="none" stroke="#222" stroke-width="0.75"/>
<polygon points="37.43,355.60 41.17,355.60 39.30,358.97" fill="none" stroke="#222" stroke-width="0.75"/>
<polygon points="37.43,362.70 41.17,362.70 39.30,366.07" fill="none" stroke="#222" stroke-width="0.75"/>
<polygon points="37.43,377.50 41.17,377.50 39.30,380.87" fill="none" stroke="#222" stroke-width="0.75"/>
<line x1="31.30" y1="336.20" x2="46.90" y2="336.20" stroke="#000" stroke-width="1.6"/>
<polygon points="59.57,251.86 62.43,251.86 61.00,254.43" fill="#000"/>
<polygon points="59.57,295.16 62.43,295.16 61.00,297.73" fill="#000"/>
<polygon points="59.57,300.16 62.43,300.16 61.00,302.73" fill="#000"/>
<polygon points="59.57,314.66 62.43,314.66 61.00,317.23" fill="#000"/>
<polygon points="59.57,321.26 62.43,321.26 61.00,323.83" fill="#000"/>
<polygon points="64.37,320.56 67.23,320.56 65.80,323.13" fill="#000"/>
<polygon points="54.97,328.06 57.83,328.06 56.40,330.63" fill="#000"/>
<polygon points="59.57,328.36 62.43,328.36 61.00,330.93" fill="#000"/>
<polygon points="64.37,334.76 67.23,334.76 65.80,337.33" fill="#000"/>
<polygon points="54.97,340.76 57.83,340.76 56.40,343.33" fill="#000"/>
<polygon points="59.57,343.56 62.43,343.56 61.00,346.13" fill="#000"/>
<polygon points="59.57,356.36 62.43,356.36 61.00,358.93" fill="#000"/>
<polygon points="64.37,355.96 67.23,355.96 65.80,358.53" fill="#000"/>
<polygon points="54.97,360.26 57.83,360.26 56.40,362.83" fill="#000"/>
<polygon points="59.57,361.26 62.43,361.26 61.00,363.83" fill="#000"/>
<polygon points="64.37,359.46 67.23,359.46 65.80,362.03" fill="#000"/>
<polygon points="59.57,371.36 62.43,371.36 61.00,373.93" fill="#000"/>
<polygon points="65.07,316.56 67.93,316.56 66.50,319.13" fill="#000"/>
<line x1="53.40" y1="337.10" x2="68.50" y2="337.10" stroke="#000" stroke-width="1.6"/>
<circle cx="82.60" cy="296.30" r="1.45" fill="none" stroke="#222" stroke-width="0.8"/>
<circle cx="82.60" cy="301.30" r="1.45" fill="none" stroke="#222" stroke-width="0.8"/>
<circle cx="82.60" cy="308.70" r="1.45" fill="none" stroke="#222" stroke-width="0.8"/>
<circle cx="82.60" cy="316.10" r="1.45" fill="none" stroke="#222" stroke-width="0.8"/>
<circle cx="78.20" cy="321.70" r="1.45" fill="none" stroke="#222" stroke-width="0.8"/>
<circle cx="82.60" cy="323.00" r="1.45" fill="none" stroke="#222" stroke-width="0.8"/>
<circle cx="87.00" cy="322.40" r="1.45" fill="none" stroke="#222" stroke-width="0.8"/>
<circle cx="78.20" cy="326.50" r="1.45" fill="none" stroke="#222" stroke-width="0.8"/>
<circle cx="82.60" cy="327.00" r="1.45" fill="none" stroke="#222" stroke-width="0.8"/>
<circle cx="87.00" cy="327.40" r="1.45" fill="none" stroke="#222" stroke-width="0.8"/>
<circle cx="87.00" cy="331.80" r="1.45" fill="none" stroke="#222" stroke-width="0.8"/>
<circle cx="82.60" cy="336.20" r="1.45" fill="none" stroke="#222" stroke-width="0.8"/>
<circle cx="87.00" cy="341.50" r="1.45" fill="none" stroke="#222" stroke-width="0.8"/>
<circle cx="78.20" cy="343.70" r="1.45" fill="none" stroke="#222" stroke-width="0.8"/>
<circle cx="82.60" cy="345.40" r="1.45" fill="none" stroke="#222" stroke-width="0.8"/>
<circle cx="78.20" cy="351.30" r="1.45" fill="none" stroke="#222" stroke-width="0.8"/>
<circle cx="82.60" cy="355.30" r="1.45" fill="none" stroke="#222" stroke-width="0.8"/>
<circle cx="87.00" cy="354.80" r="1.45" fill="none" stroke="#222" stroke-width="0.8"/>
<circle cx="78.20" cy="360.60" r="1.45" fill="none" stroke="#222" stroke-width="0.8"/>
<circle cx="82.60" cy="363.10" r="1.45" fill="none" stroke="#222" stroke-width="0.8"/>
<circle cx="82.60" cy="379.00" r="1.45" fill="none" stroke="#222" stroke-width="0.8"/>
<line x1="75.20" y1="330.00" x2="90.60" y2="330.00" stroke="#000" stroke-width="1.6"/>
<circle cx="104.40" cy="253.50" r="1.50" fill="#000"/>
<circle cx="104.40" cy="317.50" r="1.50" fill="#000"/>
<circle cx="104.40" cy="322.80" r="1.50" fill="#000"/>
<circle cx="104.40" cy="330.00" r="1.50" fill="#000"/>
<circle cx="108.80" cy="330.00" r="1.50" fill="#000"/>
<circle cx="100.00" cy="333.60" r="1.50" fill="#000"/>
<circle cx="104.40" cy="337.10" r="1.50" fill="#000"/>
<circle cx="108.80" cy="336.20" r="1.50" fill="#000"/>
<circle cx="104.40" cy="345.10" r="1.50" fill="#000"/>
<circle cx="104.40" cy="351.30" r="1.50" fill="#000"/>
<circle cx="100.00" cy="357.50" r="1.50" fill="#000"/>
<circle cx="104.40" cy="357.80" r="1.50" fill="#000"/>
<circle cx="108.80" cy="357.50" r="1.50" fill="#000"/>
<circle cx="100.00" cy="361.40" r="1.50" fill="#000"/>
<circle cx="104.40" cy="364.20" r="1.50" fill="#000"/>
<circle cx="104.40" cy="372.50" r="1.50" fill="#000"/>
<line x1="96.40" y1="341.50" x2="111.80" y2="341.50" stroke="#000" stroke-width="1.6"/>
<rect x="124.60" y="295.30" width="2.80" height="2.80" fill="none" stroke="#222" stroke-width="0.8"/>
<rect x="124.60" y="300.20" width="2.80" height="2.80" fill="none" stroke="#222" stroke-width="0.8"/>
<rect x="124.60" y="307.60" width="2.80" height="2.80" fill="none" stroke="#222" stroke-width="0.8"/>
<rect x="119.70" y="315.30" width="2.80" height="2.80" fill="none" stroke="#222" stroke-width="0.8"/>
<rect x="124.60" y="316.10" width="2.80" height="2.80" fill="none" stroke="#222" stroke-width="0.8"/>
<rect x="129.40" y="321.60" width="2.80" height="2.80" fill="none" stroke="#222" stroke-width="0.8"/>
<rect x="120.00" y="326.30" width="2.80" height="2.80" fill="none" stroke="#222" stroke-width="0.8"/>
<rect x="124.60" y="325.60" width="2.80" height="2.80" fill="none" stroke="#222" stroke-width="0.8"/>
<rect x="129.40" y="327.80" width="2.80" height="2.80" fill="none" stroke="#222" stroke-width="0.8"/>
<rect x="119.70" y="329.50" width="2.80" height="2.80" fill="none" stroke="#222" stroke-width="0.8"/>
<rect x="124.60" y="329.90" width="2.80" height="2.80" fill="none" stroke="#222" stroke-width="0.8"/>
<rect x="124.60" y="336.20" width="2.80" height="2.80" fill="none" stroke="#222" stroke-width="0.8"/>
<rect x="129.40" y="334.80" width="2.80" height="2.80" fill="none" stroke="#222" stroke-width="0.8"/>
<rect x="119.70" y="342.30" width="2.80" height="2.80" fill="none" stroke="#222" stroke-width="0.8"/>
<rect x="124.60" y="344.00" width="2.80" height="2.80" fill="none" stroke="#222" stroke-width="0.8"/>
<rect x="129.40" y="340.10" width="2.80" height="2.80" fill="none" stroke="#222" stroke-width="0.8"/>
<rect x="124.60" y="349.90" width="2.80" height="2.80" fill="none" stroke="#222" stroke-width="0.8"/>
<rect x="129.40" y="349.90" width="2.80" height="2.80" fill="none" stroke="#222" stroke-width="0.8"/>
<rect x="119.70" y="353.90" width="2.80" height="2.80" fill="none" stroke="#222" stroke-width="0.8"/>
<rect x="124.60" y="356.40" width="2.80" height="2.80" fill="none" stroke="#222" stroke-width="0.8"/>
<rect x="129.40" y="359.60" width="2.80" height="2.80" fill="none" stroke="#222" stroke-width="0.8"/>
<rect x="124.60" y="363.10" width="2.80" height="2.80" fill="none" stroke="#222" stroke-width="0.8"/>
<rect x="124.60" y="371.10" width="2.80" height="2.80" fill="none" stroke="#222" stroke-width="0.8"/>
<rect x="124.60" y="378.20" width="2.80" height="2.80" fill="none" stroke="#222" stroke-width="0.8"/>
<line x1="118.40" y1="334.50" x2="133.50" y2="334.50" stroke="#000" stroke-width="1.6"/>
<rect x="146.22" y="252.12" width="2.75" height="2.75" fill="#000"/>
<rect x="141.82" y="321.62" width="2.75" height="2.75" fill="#000"/>
<rect x="146.22" y="322.82" width="2.75" height="2.75" fill="#000"/>
<rect x="148.92" y="320.32" width="2.75" height="2.75" fill="#000"/>
<rect x="150.62" y="322.12" width="2.75" height="2.75" fill="#000"/>
<rect x="141.82" y="334.82" width="2.75" height="2.75" fill="#000"/>
<rect x="146.22" y="334.82" width="2.75" height="2.75" fill="#000"/>
<rect x="141.82" y="340.12" width="2.75" height="2.75" fill="#000"/>
<rect x="150.62" y="340.52" width="2.75" height="2.75" fill="#000"/>
<rect x="146.22" y="344.02" width="2.75" height="2.75" fill="#000"/>
<rect x="141.82" y="355.72" width="2.75" height="2.75" fill="#000"/>
<rect x="146.22" y="356.42" width="2.75" height="2.75" fill="#000"/>
<rect x="150.62" y="354.32" width="2.75" height="2.75" fill="#000"/>
<rect x="146.22" y="361.72" width="2.75" height="2.75" fill="#000"/>
<rect x="150.62" y="360.02" width="2.75" height="2.75" fill="#000"/>
<line x1="140.20" y1="341.50" x2="155.60" y2="341.50" stroke="#000" stroke-width="1.6"/>
<polygon points="167.33,298.20 171.07,298.20 169.20,294.83" fill="none" stroke="#222" stroke-width="0.75"/>
<polygon points="167.33,303.10 171.07,303.10 169.20,299.73" fill="none" stroke="#222" stroke-width="0.75"/>
<polygon points="167.33,310.50 171.07,310.50 169.20,307.13" fill="none" stroke="#222" stroke-width="0.75"/>
<polygon points="167.33,317.90 171.07,317.90 169.20,314.53" fill="none" stroke="#222" stroke-width="0.75"/>
<polygon points="163.43,324.50 167.17,324.50 165.30,321.13" fill="none" stroke="#222" stroke-width="0.75"/>
<polygon points="167.33,324.50 171.07,324.50 169.20,321.13" fill="none" stroke="#222" stroke-width="0.75"/>
<polygon points="172.33,324.50 176.07,324.50 174.20,321.13" fill="none" stroke="#222" stroke-width="0.75"/>
<polygon points="163.43,330.30 167.17,330.30 165.30,326.93" fill="none" stroke="#222" stroke-width="0.75"/>
<polygon points="168.73,329.20 172.47,329.20 170.60,325.83" fill="none" stroke="#222" stroke-width="0.75"/>
<polygon points="172.33,330.70 176.07,330.70 174.20,327.33" fill="none" stroke="#222" stroke-width="0.75"/>
<polygon points="163.43,335.10 167.17,335.10 165.30,331.73" fill="none" stroke="#222" stroke-width="0.75"/>
<polygon points="167.33,337.40 171.07,337.40 169.20,334.03" fill="none" stroke="#222" stroke-width="0.75"/>
<polygon points="163.43,343.00 167.17,343.00 165.30,339.63" fill="none" stroke="#222" stroke-width="0.75"/>
<polygon points="172.33,343.40 176.07,343.40 174.20,340.03" fill="none" stroke="#222" stroke-width="0.75"/>
<polygon points="167.33,347.50 171.07,347.50 169.20,344.13" fill="none" stroke="#222" stroke-width="0.75"/>
<polygon points="167.33,353.30 171.07,353.30 169.20,349.93" fill="none" stroke="#222" stroke-width="0.75"/>
<polygon points="163.43,357.20 167.17,357.20 165.30,353.83" fill="none" stroke="#222" stroke-width="0.75"/>
<polygon points="167.33,359.80 171.07,359.80 169.20,356.43" fill="none" stroke="#222" stroke-width="0.75"/>
<polygon points="172.33,359.30 176.07,359.30 174.20,355.93" fill="none" stroke="#222" stroke-width="0.75"/>
<polygon points="163.43,362.90 167.17,362.90 165.30,359.53" fill="none" stroke="#222" stroke-width="0.75"/>
<polygon points="167.33,364.60 171.07,364.60 169.20,361.23" fill="none" stroke="#222" stroke-width="0.75"/>
<polygon points="167.33,381.10 171.07,381.10 169.20,377.73" fill="none" stroke="#222" stroke-width="0.75"/>
<line x1="161.40" y1="331.80" x2="176.80" y2="331.80" stroke="#000" stroke-width="1.6"/>
<polygon points="189.17,254.64 192.03,254.64 190.60,252.07" fill="#000"/>
<polygon points="189.17,318.64 192.03,318.64 190.60,316.07" fill="#000"/>
<polygon points="193.97,324.84 196.83,324.84 195.40,322.27" fill="#000"/>
<polygon points="189.17,319.34 192.03,319.34 190.60,316.77" fill="#000"/>
<polygon points="193.97,325.84 196.83,325.84 195.40,323.27" fill="#000"/>
<polygon points="189.17,329.94 192.03,329.94 190.60,327.37" fill="#000"/>
<polygon points="184.77,337.74 187.63,337.74 186.20,335.17" fill="#000"/>
<polygon points="189.17,338.74 192.03,338.74 190.60,336.17" fill="#000"/>
<polygon points="193.97,337.74 196.83,337.74 195.40,335.17" fill="#000"/>
<polygon points="189.17,346.54 192.03,346.54 190.60,343.97" fill="#000"/>
<polygon points="193.97,345.34 196.83,345.34 195.40,342.77" fill="#000"/>
<polygon points="189.17,352.94 192.03,352.94 190.60,350.37" fill="#000"/>
<polygon points="189.17,358.64 192.03,358.64 190.60,356.07" fill="#000"/>
<polygon points="193.97,356.84 196.83,356.84 195.40,354.27" fill="#000"/>
<polygon points="184.77,363.04 187.63,363.04 186.20,360.47" fill="#000"/>
<polygon points="189.17,366.04 192.03,366.04 190.60,363.47" fill="#000"/>
<polygon points="189.17,374.14 192.03,374.14 190.60,371.57" fill="#000"/>
<line x1="183.40" y1="343.00" x2="198.60" y2="343.00" stroke="#000" stroke-width="1.6"/>
<polygon points="212.50,251.84 214.46,253.80 212.50,255.76 210.54,253.80" fill="none" stroke="#222" stroke-width="0.75"/>
<polygon points="212.50,294.65 214.46,296.60 212.50,298.56 210.54,296.60" fill="none" stroke="#222" stroke-width="0.75"/>
<polygon points="212.50,299.35 214.46,301.30 212.50,303.25 210.54,301.30" fill="none" stroke="#222" stroke-width="0.75"/>
<polygon points="212.50,307.15 214.46,309.10 212.50,311.06 210.54,309.10" fill="none" stroke="#222" stroke-width="0.75"/>
<polygon points="208.20,315.25 210.16,317.20 208.20,319.15 206.24,317.20" fill="none" stroke="#222" stroke-width="0.75"/>
<polygon points="212.50,313.94 214.46,315.90 212.50,317.85 210.54,315.90" fill="none" stroke="#222" stroke-width="0.75"/>
<polygon points="208.20,320.85 210.16,322.80 208.20,324.75 206.24,322.80" fill="none" stroke="#222" stroke-width="0.75"/>
<polygon points="212.50,319.55 214.46,321.50 212.50,323.45 210.54,321.50" fill="none" stroke="#222" stroke-width="0.75"/>
<polygon points="217.00,321.80 218.96,323.75 217.00,325.70 215.04,323.75" fill="none" stroke="#222" stroke-width="0.75"/>
<polygon points="208.20,325.55 210.16,327.50 208.20,329.45 206.24,327.50" fill="none" stroke="#222" stroke-width="0.75"/>
<polygon points="212.50,324.65 214.46,326.60 212.50,328.56 210.54,326.60" fill="none" stroke="#222" stroke-width="0.75"/>
<polygon points="217.00,326.44 218.96,328.40 217.00,330.35 215.04,328.40" fill="none" stroke="#222" stroke-width="0.75"/>
<polygon points="210.00,329.35 211.96,331.30 210.00,333.25 208.04,331.30" fill="none" stroke="#222" stroke-width="0.75"/>
<polygon points="212.50,330.25 214.46,332.20 212.50,334.15 210.54,332.20" fill="none" stroke="#222" stroke-width="0.75"/>
<polygon points="208.20,336.80 210.16,338.75 208.20,340.70 206.24,338.75" fill="none" stroke="#222" stroke-width="0.75"/>
<polygon points="212.50,335.85 214.46,337.80 212.50,339.75 210.54,337.80" fill="none" stroke="#222" stroke-width="0.75"/>
<polygon points="210.00,339.65 211.96,341.60 210.00,343.56 208.04,341.60" fill="none" stroke="#222" stroke-width="0.75"/>
<polygon points="217.00,340.55 218.96,342.50 217.00,344.45 215.04,342.50" fill="none" stroke="#222" stroke-width="0.75"/>
<polygon points="208.20,342.44 210.16,344.40 208.20,346.35 206.24,344.40" fill="none" stroke="#222" stroke-width="0.75"/>
<polygon points="212.50,343.35 214.46,345.30 212.50,347.25 210.54,345.30" fill="none" stroke="#222" stroke-width="0.75"/>
<polygon points="212.50,349.94 214.46,351.90 212.50,353.85 210.54,351.90" fill="none" stroke="#222" stroke-width="0.75"/>
<polygon points="217.00,349.55 218.96,351.50 217.00,353.45 215.04,351.50" fill="none" stroke="#222" stroke-width="0.75"/>
<polygon points="208.20,355.15 210.16,357.10 208.20,359.06 206.24,357.10" fill="none" stroke="#222" stroke-width="0.75"/>
<polygon points="212.50,356.44 214.46,358.40 212.50,360.35 210.54,358.40" fill="none" stroke="#222" stroke-width="0.75"/>
<polygon points="217.00,361.15 218.96,363.10 217.00,365.06 215.04,363.10" fill="none" stroke="#222" stroke-width="0.75"/>
<polygon points="208.20,359.35 210.16,361.30 208.20,363.25 206.24,361.30" fill="none" stroke="#222" stroke-width="0.75"/>
<polygon points="212.50,362.65 214.46,364.60 212.50,366.56 210.54,364.60" fill="none" stroke="#222" stroke-width="0.75"/>
<polygon points="214.75,359.35 216.71,361.30 214.75,363.25 212.79,361.30" fill="none" stroke="#222" stroke-width="0.75"/>
<polygon points="212.50,370.94 214.46,372.90 212.50,374.85 210.54,372.90" fill="none" stroke="#222" stroke-width="0.75"/>
<polygon points="212.50,377.65 214.46,379.60 212.50,381.56 210.54,379.60" fill="none" stroke="#222" stroke-width="0.75"/>
<line x1="205.00" y1="336.50" x2="220.40" y2="336.50" stroke="#000" stroke-width="1.6"/>
<polygon points="234.40,322.97 236.12,324.70 234.40,326.43 232.68,324.70" fill="#000"/>
<polygon points="234.40,328.57 236.12,330.30 234.40,332.03 232.68,330.30" fill="#000"/>
<polygon points="229.75,339.88 231.47,341.60 229.75,343.33 228.03,341.60" fill="#000"/>
<polygon points="229.75,353.52 231.47,355.25 229.75,356.98 228.03,355.25" fill="#000"/>
<polygon points="234.40,356.38 236.12,358.10 234.40,359.83 232.68,358.10" fill="#000"/>
<polygon points="239.10,353.52 240.82,355.25 239.10,356.98 237.38,355.25" fill="#000"/>
<line x1="226.40" y1="345.70" x2="241.90" y2="345.70" stroke="#000" stroke-width="1.6"/>
<text x="39.80" y="276.90" font-size="5.1" text-anchor="start" fill="#333">p=0.4359</text>
<line x1="38.70" y1="279.90" x2="61.40" y2="279.90" stroke="#333" stroke-width="0.9"/>
<line x1="38.70" y1="278.30" x2="38.70" y2="281.50" stroke="#333" stroke-width="0.9"/>
<line x1="61.40" y1="278.30" x2="61.40" y2="281.50" stroke="#333" stroke-width="0.9"/>
<text x="82.60" y="278.10" font-size="5.1" text-anchor="start" fill="#333">p=0.5104</text>
<line x1="82.60" y1="280.40" x2="104.60" y2="280.40" stroke="#333" stroke-width="0.9"/>
<line x1="82.60" y1="278.80" x2="82.60" y2="282.00" stroke="#333" stroke-width="0.9"/>
<line x1="104.60" y1="278.80" x2="104.60" y2="282.00" stroke="#333" stroke-width="0.9"/>
<text x="125.50" y="277.20" font-size="5.1" text-anchor="start" fill="#333">p=0.8858</text>
<line x1="125.50" y1="279.50" x2="148.40" y2="279.50" stroke="#333" stroke-width="0.9"/>
<line x1="125.50" y1="277.90" x2="125.50" y2="281.10" stroke="#333" stroke-width="0.9"/>
<line x1="148.40" y1="277.90" x2="148.40" y2="281.10" stroke="#333" stroke-width="0.9"/>
<text x="169.70" y="277.20" font-size="5.1" text-anchor="start" fill="#333">p=0.6101</text>
<line x1="168.80" y1="279.50" x2="191.80" y2="279.50" stroke="#333" stroke-width="0.9"/>
<line x1="168.80" y1="277.90" x2="168.80" y2="281.10" stroke="#333" stroke-width="0.9"/>
<line x1="191.80" y1="277.90" x2="191.80" y2="281.10" stroke="#333" stroke-width="0.9"/>
<text x="212.90" y="276.40" font-size="5.1" text-anchor="start" fill="#333">p=0.3853</text>
<line x1="212.50" y1="278.75" x2="235.50" y2="278.75" stroke="#333" stroke-width="0.9"/>
<line x1="212.50" y1="277.15" x2="212.50" y2="280.35" stroke="#333" stroke-width="0.9"/>
<line x1="235.50" y1="277.15" x2="235.50" y2="280.35" stroke="#333" stroke-width="0.9"/>
<text x="268.60" y="243.60" font-size="14" text-anchor="start" font-weight="bold" stroke="#000" stroke-width="0.15" fill="#000">D</text>
<line x1="295.30" y1="252.30" x2="512.80" y2="252.30" stroke="#555" stroke-width="1"/>
<line x1="512.80" y1="252.30" x2="512.80" y2="396.40" stroke="#888" stroke-width="1"/>
<line x1="339.30" y1="252.30" x2="339.30" y2="396.40" stroke="#777" stroke-width="1"/>
<line x1="382.50" y1="252.30" x2="382.50" y2="396.40" stroke="#777" stroke-width="1"/>
<line x1="426.00" y1="252.30" x2="426.00" y2="396.40" stroke="#777" stroke-width="1"/>
<line x1="469.20" y1="252.30" x2="469.20" y2="396.40" stroke="#777" stroke-width="1"/>
<line x1="295.30" y1="251.80" x2="295.30" y2="397.00" stroke="#000" stroke-width="1.3"/>
<line x1="294.70" y1="396.40" x2="513.30" y2="396.40" stroke="#000" stroke-width="1.3"/>
<line x1="293.10" y1="252.30" x2="295.30" y2="252.30" stroke="#000" stroke-width="1"/>
<text x="292.60" y="254.60" font-size="6.4" text-anchor="end" font-weight="bold" fill="#000">15</text>
<line x1="293.10" y1="299.90" x2="295.30" y2="299.90" stroke="#000" stroke-width="1"/>
<text x="292.60" y="302.20" font-size="6.4" text-anchor="end" font-weight="bold" fill="#000">10</text>
<line x1="293.10" y1="348.40" x2="295.30" y2="348.40" stroke="#000" stroke-width="1"/>
<text x="292.60" y="350.70" font-size="6.4" text-anchor="end" font-weight="bold" fill="#000">5</text>
<line x1="293.10" y1="396.40" x2="295.30" y2="396.40" stroke="#000" stroke-width="1"/>
<text x="292.60" y="398.70" font-size="6.4" text-anchor="end" font-weight="bold" fill="#000">0</text>
<text x="281.20" y="320.50" font-size="7.0" text-anchor="middle" font-weight="bold" fill="#000" transform="rotate(-90 281.20 320.50)">Telomere Length (kb)</text>
<line x1="306.40" y1="396.40" x2="306.40" y2="398.40" stroke="#000" stroke-width="1"/>
<text x="308.70" y="404.00" font-size="6.1" text-anchor="end" font-weight="bold" fill="#000" transform="rotate(-45 308.70 404.00)">No del(9p21)</text>
<line x1="328.00" y1="396.40" x2="328.00" y2="398.40" stroke="#000" stroke-width="1"/>
<text x="330.30" y="404.00" font-size="6.1" text-anchor="end" font-weight="bold" fill="#000" transform="rotate(-45 330.30 404.00)">del(9p21)</text>
<line x1="349.40" y1="396.40" x2="349.40" y2="398.40" stroke="#000" stroke-width="1"/>
<text x="351.70" y="404.00" font-size="6.1" text-anchor="end" font-weight="bold" fill="#000" transform="rotate(-45 351.70 404.00)">No del(11q22-q23)</text>
<line x1="371.30" y1="396.40" x2="371.30" y2="398.40" stroke="#000" stroke-width="1"/>
<text x="373.60" y="404.00" font-size="6.1" text-anchor="end" font-weight="bold" fill="#000" transform="rotate(-45 373.60 404.00)">del(11q22-23)</text>
<line x1="392.80" y1="396.40" x2="392.80" y2="398.40" stroke="#000" stroke-width="1"/>
<text x="395.10" y="404.00" font-size="6.1" text-anchor="end" font-weight="bold" fill="#000" transform="rotate(-45 395.10 404.00)">No del(13q14)</text>
<line x1="414.70" y1="396.40" x2="414.70" y2="398.40" stroke="#000" stroke-width="1"/>
<text x="417.00" y="404.00" font-size="6.1" text-anchor="end" font-weight="bold" fill="#000" transform="rotate(-45 417.00 404.00)">del(13q14)</text>
<line x1="436.60" y1="396.40" x2="436.60" y2="398.40" stroke="#000" stroke-width="1"/>
<text x="438.90" y="404.00" font-size="6.1" text-anchor="end" font-weight="bold" fill="#000" transform="rotate(-45 438.90 404.00)">No del(13qTer)</text>
<line x1="458.20" y1="396.40" x2="458.20" y2="398.40" stroke="#000" stroke-width="1"/>
<text x="460.50" y="404.00" font-size="6.1" text-anchor="end" font-weight="bold" fill="#000" transform="rotate(-45 460.50 404.00)">del(13qTer)</text>
<line x1="480.00" y1="396.40" x2="480.00" y2="398.40" stroke="#000" stroke-width="1"/>
<text x="482.30" y="404.00" font-size="6.1" text-anchor="end" font-weight="bold" fill="#000" transform="rotate(-45 482.30 404.00)">No del(17p13)</text>
<line x1="501.50" y1="396.40" x2="501.50" y2="398.40" stroke="#000" stroke-width="1"/>
<text x="503.80" y="404.00" font-size="6.1" text-anchor="end" font-weight="bold" fill="#000" transform="rotate(-45 503.80 404.00)">del(17p13)</text>
<polygon points="304.53,261.40 308.27,261.40 306.40,264.77" fill="none" stroke="#222" stroke-width="0.75"/>
<polygon points="299.43,313.80 303.17,313.80 301.30,317.17" fill="none" stroke="#222" stroke-width="0.75"/>
<polygon points="304.53,314.80 308.27,314.80 306.40,318.17" fill="none" stroke="#222" stroke-width="0.75"/>
<polygon points="304.53,331.40 308.27,331.40 306.40,334.77" fill="none" stroke="#222" stroke-width="0.75"/>
<polygon points="299.43,340.90 303.17,340.90 301.30,344.27" fill="none" stroke="#222" stroke-width="0.75"/>
<polygon points="304.53,343.10 308.27,343.10 306.40,346.47" fill="none" stroke="#222" stroke-width="0.75"/>
<polygon points="304.53,348.20 308.27,348.20 306.40,351.57" fill="none" stroke="#222" stroke-width="0.75"/>
<polygon points="299.43,357.70 303.17,357.70 301.30,361.07" fill="none" stroke="#222" stroke-width="0.75"/>
<polygon points="309.13,357.70 312.87,357.70 311.00,361.07" fill="none" stroke="#222" stroke-width="0.75"/>
<polygon points="304.53,361.90 308.27,361.90 306.40,365.27" fill="none" stroke="#222" stroke-width="0.75"/>
<polygon points="299.43,365.00 303.17,365.00 301.30,368.37" fill="none" stroke="#222" stroke-width="0.75"/>
<polygon points="306.43,365.00 310.17,365.00 308.30,368.37" fill="none" stroke="#222" stroke-width="0.75"/>
<polygon points="309.13,366.50 312.87,366.50 311.00,369.87" fill="none" stroke="#222" stroke-width="0.75"/>
<polygon points="304.53,367.40 308.27,367.40 306.40,370.77" fill="none" stroke="#222" stroke-width="0.75"/>
<line x1="298.20" y1="354.80" x2="314.10" y2="354.80" stroke="#000" stroke-width="1.6"/>
<polygon points="326.57,336.16 329.43,336.16 328.00,338.73" fill="#000"/>
<polygon points="326.57,341.66 329.43,341.66 328.00,344.23" fill="#000"/>
<polygon points="326.57,347.06 329.43,347.06 328.00,349.63" fill="#000"/>
<polygon points="322.37,354.46 325.23,354.46 323.80,357.03" fill="#000"/>
<polygon points="330.97,354.06 333.83,354.06 332.40,356.63" fill="#000"/>
<polygon points="326.57,355.56 329.43,355.56 328.00,358.13" fill="#000"/>
<polygon points="326.57,363.56 329.43,363.56 328.00,366.13" fill="#000"/>
<line x1="320.10" y1="355.60" x2="335.70" y2="355.60" stroke="#000" stroke-width="1.6"/>
<circle cx="349.40" cy="263.30" r="1.45" fill="none" stroke="#222" stroke-width="0.8"/>
<circle cx="349.40" cy="316.60" r="1.45" fill="none" stroke="#222" stroke-width="0.8"/>
<circle cx="353.90" cy="315.30" r="1.45" fill="none" stroke="#222" stroke-width="0.8"/>
<circle cx="349.40" cy="333.60" r="1.45" fill="none" stroke="#222" stroke-width="0.8"/>
<circle cx="353.90" cy="342.80" r="1.45" fill="none" stroke="#222" stroke-width="0.8"/>
<circle cx="349.40" cy="345.50" r="1.45" fill="none" stroke="#222" stroke-width="0.8"/>
<circle cx="349.40" cy="350.10" r="1.45" fill="none" stroke="#222" stroke-width="0.8"/>
<circle cx="344.80" cy="359.80" r="1.45" fill="none" stroke="#222" stroke-width="0.8"/>
<circle cx="353.90" cy="359.80" r="1.45" fill="none" stroke="#222" stroke-width="0.8"/>
<circle cx="349.40" cy="363.40" r="1.45" fill="none" stroke="#222" stroke-width="0.8"/>
<circle cx="352.10" cy="364.70" r="1.45" fill="none" stroke="#222" stroke-width="0.8"/>
<circle cx="344.80" cy="366.50" r="1.45" fill="none" stroke="#222" stroke-width="0.8"/>
<circle cx="353.90" cy="367.10" r="1.45" fill="none" stroke="#222" stroke-width="0.8"/>
<circle cx="349.40" cy="368.90" r="1.45" fill="none" stroke="#222" stroke-width="0.8"/>
<line x1="342.10" y1="355.20" x2="357.60" y2="355.20" stroke="#000" stroke-width="1.6"/>
<circle cx="371.30" cy="337.80" r="1.50" fill="#000"/>
<circle cx="371.30" cy="342.80" r="1.50" fill="#000"/>
<circle cx="371.30" cy="348.80" r="1.50" fill="#000"/>
<circle cx="366.70" cy="356.70" r="1.50" fill="#000"/>
<circle cx="371.30" cy="357.00" r="1.50" fill="#000"/>
<circle cx="371.30" cy="368.30" r="1.50" fill="#000"/>
<line x1="364.50" y1="352.50" x2="379.50" y2="352.50" stroke="#000" stroke-width="1.6"/>
<rect x="391.40" y="313.90" width="2.80" height="2.80" fill="none" stroke="#222" stroke-width="0.8"/>
<rect x="391.40" y="332.20" width="2.80" height="2.80" fill="none" stroke="#222" stroke-width="0.8"/>
<rect x="386.80" y="358.40" width="2.80" height="2.80" fill="none" stroke="#222" stroke-width="0.8"/>
<rect x="396.50" y="358.40" width="2.80" height="2.80" fill="none" stroke="#222" stroke-width="0.8"/>
<rect x="386.80" y="363.80" width="2.80" height="2.80" fill="none" stroke="#222" stroke-width="0.8"/>
<rect x="391.40" y="362.60" width="2.80" height="2.80" fill="none" stroke="#222" stroke-width="0.8"/>
<rect x="396.50" y="365.10" width="2.80" height="2.80" fill="none" stroke="#222" stroke-width="0.8"/>
<rect x="391.40" y="368.00" width="2.80" height="2.80" fill="none" stroke="#222" stroke-width="0.8"/>
<line x1="385.50" y1="362.10" x2="401.00" y2="362.10" stroke="#000" stroke-width="1.6"/>
<rect x="413.32" y="261.92" width="2.75" height="2.75" fill="#000"/>
<rect x="413.32" y="315.22" width="2.75" height="2.75" fill="#000"/>
<rect x="413.32" y="336.42" width="2.75" height="2.75" fill="#000"/>
<rect x="408.72" y="341.42" width="2.75" height="2.75" fill="#000"/>
<rect x="417.92" y="341.42" width="2.75" height="2.75" fill="#000"/>
<rect x="413.32" y="343.72" width="2.75" height="2.75" fill="#000"/>
<rect x="413.32" y="348.32" width="2.75" height="2.75" fill="#000"/>
<rect x="408.72" y="354.72" width="2.75" height="2.75" fill="#000"/>
<rect x="413.32" y="355.32" width="2.75" height="2.75" fill="#000"/>
<rect x="417.92" y="354.22" width="2.75" height="2.75" fill="#000"/>
<rect x="413.32" y="366.92" width="2.75" height="2.75" fill="#000"/>
<rect x="417.92" y="366.22" width="2.75" height="2.75" fill="#000"/>
<line x1="407.40" y1="348.40" x2="422.40" y2="348.40" stroke="#000" stroke-width="1.6"/>
<polygon points="434.73,318.10 438.47,318.10 436.60,314.73" fill="none" stroke="#222" stroke-width="0.75"/>
<polygon points="439.33,316.80 443.07,316.80 441.20,313.43" fill="none" stroke="#222" stroke-width="0.75"/>
<polygon points="434.73,335.10 438.47,335.10 436.60,331.73" fill="none" stroke="#222" stroke-width="0.75"/>
<polygon points="439.33,344.30 443.07,344.30 441.20,340.93" fill="none" stroke="#222" stroke-width="0.75"/>
<polygon points="434.73,347.20 438.47,347.20 436.60,343.83" fill="none" stroke="#222" stroke-width="0.75"/>
<polygon points="430.23,365.80 433.97,365.80 432.10,362.43" fill="none" stroke="#222" stroke-width="0.75"/>
<polygon points="434.73,364.90 438.47,364.90 436.60,361.53" fill="none" stroke="#222" stroke-width="0.75"/>
<polygon points="439.33,366.70 443.07,366.70 441.20,363.33" fill="none" stroke="#222" stroke-width="0.75"/>
<polygon points="434.73,370.40 438.47,370.40 436.60,367.03" fill="none" stroke="#222" stroke-width="0.75"/>
<polygon points="439.33,368.60 443.07,368.60 441.20,365.23" fill="none" stroke="#222" stroke-width="0.75"/>
<line x1="429.30" y1="359.80" x2="444.30" y2="359.80" stroke="#000" stroke-width="1.6"/>
<polygon points="456.77,264.44 459.63,264.44 458.20,261.87" fill="#000"/>
<polygon points="456.77,339.54 459.63,339.54 458.20,336.97" fill="#000"/>
<polygon points="456.77,344.44 459.63,344.44 458.20,341.87" fill="#000"/>
<polygon points="456.77,351.24 459.63,351.24 458.20,348.67" fill="#000"/>
<polygon points="461.67,349.94 464.53,349.94 463.10,347.37" fill="#000"/>
<polygon points="452.17,357.84 455.03,357.84 453.60,355.27" fill="#000"/>
<polygon points="456.77,358.54 459.63,358.54 458.20,355.97" fill="#000"/>
<polygon points="461.67,357.24 464.53,357.24 463.10,354.67" fill="#000"/>
<polygon points="456.77,369.44 459.63,369.44 458.20,366.87" fill="#000"/>
<polygon points="461.67,368.74 464.53,368.74 463.10,366.17" fill="#000"/>
<line x1="450.30" y1="352.80" x2="465.90" y2="352.80" stroke="#000" stroke-width="1.6"/>
<polygon points="479.80,261.25 481.75,263.20 479.80,265.15 477.85,263.20" fill="none" stroke="#222" stroke-width="0.75"/>
<polygon points="479.80,313.44 481.75,315.40 479.80,317.35 477.85,315.40" fill="none" stroke="#222" stroke-width="0.75"/>
<polygon points="475.40,331.55 477.35,333.50 475.40,335.45 473.44,333.50" fill="none" stroke="#222" stroke-width="0.75"/>
<polygon points="480.00,336.25 481.95,338.20 480.00,340.15 478.05,338.20" fill="none" stroke="#222" stroke-width="0.75"/>
<polygon points="475.40,340.85 477.35,342.80 475.40,344.75 473.44,342.80" fill="none" stroke="#222" stroke-width="0.75"/>
<polygon points="480.00,343.44 481.95,345.40 480.00,347.35 478.05,345.40" fill="none" stroke="#222" stroke-width="0.75"/>
<polygon points="484.60,341.15 486.56,343.10 484.60,345.06 482.65,343.10" fill="none" stroke="#222" stroke-width="0.75"/>
<polygon points="475.40,346.55 477.35,348.50 475.40,350.45 473.44,348.50" fill="none" stroke="#222" stroke-width="0.75"/>
<polygon points="480.00,348.05 481.95,350.00 480.00,351.95 478.05,350.00" fill="none" stroke="#222" stroke-width="0.75"/>
<polygon points="480.00,353.75 481.95,355.70 480.00,357.65 478.05,355.70" fill="none" stroke="#222" stroke-width="0.75"/>
<polygon points="484.60,354.65 486.56,356.60 484.60,358.56 482.65,356.60" fill="none" stroke="#222" stroke-width="0.75"/>
<polygon points="475.40,358.35 477.35,360.30 475.40,362.25 473.44,360.30" fill="none" stroke="#222" stroke-width="0.75"/>
<polygon points="480.00,358.85 481.95,360.80 480.00,362.75 478.05,360.80" fill="none" stroke="#222" stroke-width="0.75"/>
<polygon points="475.40,362.94 477.35,364.90 475.40,366.85 473.44,364.90" fill="none" stroke="#222" stroke-width="0.75"/>
<polygon points="480.00,366.55 481.95,368.50 480.00,370.45 478.05,368.50" fill="none" stroke="#222" stroke-width="0.75"/>
<polygon points="484.60,365.44 486.56,367.40 484.60,369.35 482.65,367.40" fill="none" stroke="#222" stroke-width="0.75"/>
<line x1="472.30" y1="349.20" x2="487.70" y2="349.20" stroke="#000" stroke-width="1.6"/>
<polygon points="501.50,314.77 503.23,316.50 501.50,318.23 499.77,316.50" fill="#000"/>
<polygon points="501.50,355.17 503.23,356.90 501.50,358.62 499.77,356.90" fill="#000"/>
<polygon points="501.50,362.07 503.23,363.80 501.50,365.53 499.77,363.80" fill="#000"/>
<polygon points="506.20,364.77 507.93,366.50 506.20,368.23 504.47,366.50" fill="#000"/>
<polygon points="501.50,367.47 503.23,369.20 501.50,370.93 499.77,369.20" fill="#000"/>
<line x1="494.20" y1="363.80" x2="509.50" y2="363.80" stroke="#000" stroke-width="1.6"/>
<text x="306.10" y="288.30" font-size="5.2" text-anchor="start" fill="#333">p=0.5297</text>
<line x1="306.00" y1="289.20" x2="329.00" y2="289.20" stroke="#333" stroke-width="0.9"/>
<line x1="306.00" y1="287.80" x2="306.00" y2="290.60" stroke="#333" stroke-width="0.9"/>
<line x1="329.00" y1="287.80" x2="329.00" y2="290.60" stroke="#333" stroke-width="0.9"/>
<text x="348.10" y="293.10" font-size="5.2" text-anchor="start" fill="#333">p=0.5821</text>
<line x1="348.10" y1="294.00" x2="371.00" y2="294.00" stroke="#333" stroke-width="0.9"/>
<line x1="348.10" y1="292.60" x2="348.10" y2="295.40" stroke="#333" stroke-width="0.9"/>
<line x1="371.00" y1="292.60" x2="371.00" y2="295.40" stroke="#333" stroke-width="0.9"/>
<text x="393.70" y="285.50" font-size="5.2" text-anchor="start" fill="#333">p=0.3010</text>
<line x1="392.80" y1="286.70" x2="416.50" y2="286.70" stroke="#333" stroke-width="0.9"/>
<line x1="392.80" y1="285.30" x2="392.80" y2="288.10" stroke="#333" stroke-width="0.9"/>
<line x1="416.50" y1="285.30" x2="416.50" y2="288.10" stroke="#333" stroke-width="0.9"/>
<text x="437.00" y="285.50" font-size="5.2" text-anchor="start" fill="#333">p=0.7018</text>
<line x1="436.00" y1="286.70" x2="460.50" y2="286.70" stroke="#333" stroke-width="0.9"/>
<line x1="436.00" y1="285.30" x2="436.00" y2="288.10" stroke="#333" stroke-width="0.9"/>
<line x1="460.50" y1="285.30" x2="460.50" y2="288.10" stroke="#333" stroke-width="0.9"/>
<text x="479.00" y="290.50" font-size="5.2" text-anchor="start" fill="#333">p=0.4417</text>
<line x1="478.50" y1="291.70" x2="501.80" y2="291.70" stroke="#333" stroke-width="0.9"/>
<line x1="478.50" y1="290.30" x2="478.50" y2="293.10" stroke="#333" stroke-width="0.9"/>
<line x1="501.80" y1="290.30" x2="501.80" y2="293.10" stroke="#333" stroke-width="0.9"/>
<text x="19.20" y="475.90" font-size="14" text-anchor="start" font-weight="bold" stroke="#000" stroke-width="0.15" fill="#000">E</text>
<line x1="58.30" y1="505.30" x2="58.30" y2="614.20" stroke="#000" stroke-width="1.3"/>
<line x1="57.70" y1="613.60" x2="222.60" y2="613.60" stroke="#000" stroke-width="1.3"/>
<line x1="56.10" y1="505.50" x2="58.30" y2="505.50" stroke="#000" stroke-width="1"/>
<text x="55.60" y="507.88" font-size="6.6" text-anchor="end" font-weight="bold" fill="#000">8</text>
<line x1="56.10" y1="532.60" x2="58.30" y2="532.60" stroke="#000" stroke-width="1"/>
<text x="55.60" y="534.98" font-size="6.6" text-anchor="end" font-weight="bold" fill="#000">6</text>
<line x1="56.10" y1="559.60" x2="58.30" y2="559.60" stroke="#000" stroke-width="1"/>
<text x="55.60" y="561.98" font-size="6.6" text-anchor="end" font-weight="bold" fill="#000">4</text>
<line x1="56.10" y1="586.60" x2="58.30" y2="586.60" stroke="#000" stroke-width="1"/>
<text x="55.60" y="588.98" font-size="6.6" text-anchor="end" font-weight="bold" fill="#000">2</text>
<line x1="56.10" y1="613.60" x2="58.30" y2="613.60" stroke="#000" stroke-width="1"/>
<text x="55.60" y="615.98" font-size="6.6" text-anchor="end" font-weight="bold" fill="#000">0</text>
<line x1="58.30" y1="613.60" x2="58.30" y2="615.80" stroke="#000" stroke-width="1"/>
<text x="60.70" y="621.60" font-size="7.4" text-anchor="end" font-weight="bold" stroke="#000" stroke-width="0.15" fill="#000" transform="rotate(-45 60.70 621.60)">0</text>
<line x1="112.78" y1="613.60" x2="112.78" y2="615.80" stroke="#000" stroke-width="1"/>
<text x="115.18" y="621.60" font-size="7.4" text-anchor="end" font-weight="bold" stroke="#000" stroke-width="0.15" fill="#000" transform="rotate(-45 115.18 621.60)">4</text>
<line x1="167.26" y1="613.60" x2="167.26" y2="615.80" stroke="#000" stroke-width="1"/>
<text x="169.66" y="621.60" font-size="7.4" text-anchor="end" font-weight="bold" stroke="#000" stroke-width="0.15" fill="#000" transform="rotate(-45 169.66 621.60)">8</text>
<line x1="221.74" y1="613.60" x2="221.74" y2="615.80" stroke="#000" stroke-width="1"/>
<text x="224.14" y="621.60" font-size="7.4" text-anchor="end" font-weight="bold" stroke="#000" stroke-width="0.15" fill="#000" transform="rotate(-45 224.14 621.60)">12</text>
<text x="137.40" y="637.60" font-size="8.0" text-anchor="middle" font-weight="bold" stroke="#000" stroke-width="0.15" fill="#000">Number of genomic aberrations</text>
<text x="48.90" y="557.70" font-size="7.5" text-anchor="middle" font-weight="bold" stroke="#000" stroke-width="0.15" fill="#000" transform="rotate(-90 48.90 557.70)">Telomere Length (kb)</text>
<circle cx="72.00" cy="544.50" r="1.85" fill="#000"/>
<circle cx="85.75" cy="534.25" r="1.85" fill="#000"/>
<circle cx="85.75" cy="548.00" r="1.85" fill="#000"/>
<circle cx="99.50" cy="547.00" r="1.85" fill="#000"/>
<circle cx="99.50" cy="550.00" r="1.85" fill="#000"/>
<circle cx="99.50" cy="553.75" r="1.85" fill="#000"/>
<circle cx="113.00" cy="540.50" r="1.85" fill="#000"/>
<circle cx="126.75" cy="543.75" r="1.85" fill="#000"/>
<circle cx="126.75" cy="548.00" r="1.85" fill="#000"/>
<circle cx="126.75" cy="559.50" r="1.85" fill="#000"/>
<circle cx="140.50" cy="525.50" r="1.85" fill="#000"/>
<circle cx="140.00" cy="544.50" r="1.85" fill="#000"/>
<circle cx="140.00" cy="552.00" r="1.85" fill="#000"/>
<circle cx="140.00" cy="558.00" r="1.85" fill="#000"/>
<circle cx="140.00" cy="569.50" r="1.85" fill="#000"/>
<circle cx="153.75" cy="553.75" r="1.85" fill="#000"/>
<circle cx="153.75" cy="560.00" r="1.85" fill="#000"/>
<circle cx="153.75" cy="565.00" r="1.85" fill="#000"/>
<circle cx="153.75" cy="567.00" r="1.85" fill="#000"/>
<circle cx="153.75" cy="573.00" r="1.85" fill="#000"/>
<circle cx="167.50" cy="549.50" r="1.85" fill="#000"/>
<circle cx="167.50" cy="572.00" r="1.85" fill="#000"/>
<circle cx="167.50" cy="573.75" r="1.85" fill="#000"/>
<circle cx="181.25" cy="553.75" r="1.85" fill="#000"/>
<circle cx="181.25" cy="557.50" r="1.85" fill="#000"/>
<circle cx="194.50" cy="554.50" r="1.85" fill="#000"/>
<circle cx="194.50" cy="567.50" r="1.85" fill="#000"/>
<circle cx="194.50" cy="571.25" r="1.85" fill="#000"/>
<circle cx="194.50" cy="580.00" r="1.85" fill="#000"/>
<circle cx="208.25" cy="549.25" r="1.85" fill="#000"/>
<circle cx="208.25" cy="560.50" r="1.85" fill="#000"/>
<circle cx="222.00" cy="528.75" r="1.85" fill="#000"/>
<circle cx="222.00" cy="568.75" r="1.85" fill="#000"/>
<line x1="72.00" y1="544.50" x2="222.00" y2="564.50" stroke="#333" stroke-width="0.9"/>
<text x="92.50" y="575.10" font-size="6.1" text-anchor="start" fill="#333">R</text>
<text x="96.60" y="572.30" font-size="3.9" text-anchor="start" fill="#333">2</text>
<text x="98.90" y="575.10" font-size="6.1" text-anchor="start" fill="#333">=0.1534</text>
<text x="92.50" y="582.60" font-size="6.1" text-anchor="start" fill="#333">p=0.022</text>
<text x="262.80" y="478.20" font-size="14.5" text-anchor="start" font-weight="bold" stroke="#000" stroke-width="0.15" fill="#000">F</text>
<line x1="293.75" y1="493.95" x2="456.60" y2="493.95" stroke="#666" stroke-width="1"/>
<line x1="456.60" y1="493.95" x2="456.60" y2="602.40" stroke="#888" stroke-width="1"/>
<line x1="330.30" y1="493.95" x2="330.30" y2="602.40" stroke="#888" stroke-width="1.1"/>
<line x1="367.00" y1="493.95" x2="367.00" y2="602.40" stroke="#888" stroke-width="1.1"/>
<line x1="403.50" y1="493.95" x2="403.50" y2="602.40" stroke="#888" stroke-width="1.1"/>
<line x1="293.75" y1="493.45" x2="293.75" y2="603.00" stroke="#000" stroke-width="1.3"/>
<line x1="293.15" y1="602.40" x2="457.10" y2="602.40" stroke="#000" stroke-width="1.3"/>
<line x1="291.55" y1="493.90" x2="293.75" y2="493.90" stroke="#000" stroke-width="1"/>
<text x="291.05" y="496.42" font-size="7.0" text-anchor="end" font-weight="bold" fill="#000">10</text>
<line x1="291.55" y1="515.80" x2="293.75" y2="515.80" stroke="#000" stroke-width="1"/>
<text x="291.05" y="518.32" font-size="7.0" text-anchor="end" font-weight="bold" fill="#000">8</text>
<line x1="291.55" y1="537.40" x2="293.75" y2="537.40" stroke="#000" stroke-width="1"/>
<text x="291.05" y="539.92" font-size="7.0" text-anchor="end" font-weight="bold" fill="#000">6</text>
<line x1="291.55" y1="559.10" x2="293.75" y2="559.10" stroke="#000" stroke-width="1"/>
<text x="291.05" y="561.62" font-size="7.0" text-anchor="end" font-weight="bold" fill="#000">4</text>
<line x1="291.55" y1="580.80" x2="293.75" y2="580.80" stroke="#000" stroke-width="1"/>
<text x="291.05" y="583.32" font-size="7.0" text-anchor="end" font-weight="bold" fill="#000">2</text>
<line x1="291.55" y1="602.40" x2="293.75" y2="602.40" stroke="#000" stroke-width="1"/>
<text x="291.05" y="604.92" font-size="7.0" text-anchor="end" font-weight="bold" fill="#000">0</text>
<text x="278.90" y="545.50" font-size="7.5" text-anchor="middle" font-weight="bold" stroke="#000" stroke-width="0.15" fill="#000" transform="rotate(-90 278.90 545.50)">Telomere Length (kb)</text>
<line x1="303.10" y1="602.40" x2="303.10" y2="604.40" stroke="#000" stroke-width="1"/>
<text x="305.10" y="610.70" font-size="5.8" text-anchor="end" font-weight="bold" fill="#000" transform="rotate(-45 305.10 610.70)">Non-Blastoid</text>
<line x1="321.10" y1="602.40" x2="321.10" y2="604.40" stroke="#000" stroke-width="1"/>
<text x="323.10" y="610.70" font-size="5.8" text-anchor="end" font-weight="bold" fill="#000" transform="rotate(-45 323.10 610.70)">Blastoid</text>
<line x1="339.20" y1="602.40" x2="339.20" y2="604.40" stroke="#000" stroke-width="1"/>
<text x="341.20" y="610.70" font-size="5.8" text-anchor="end" font-weight="bold" fill="#000" transform="rotate(-45 341.20 610.70)">WBC&lt;median</text>
<line x1="357.20" y1="602.40" x2="357.20" y2="604.40" stroke="#000" stroke-width="1"/>
<text x="359.20" y="610.70" font-size="5.8" text-anchor="end" font-weight="bold" fill="#000" transform="rotate(-45 359.20 610.70)">WBC&gt;median</text>
<line x1="375.40" y1="602.40" x2="375.40" y2="604.40" stroke="#000" stroke-width="1"/>
<text x="377.40" y="610.70" font-size="5.8" text-anchor="end" font-weight="bold" fill="#000" transform="rotate(-45 377.40 610.70)">LDH&lt;median</text>
<line x1="393.50" y1="602.40" x2="393.50" y2="604.40" stroke="#000" stroke-width="1"/>
<text x="395.50" y="610.70" font-size="5.8" text-anchor="end" font-weight="bold" fill="#000" transform="rotate(-45 395.50 610.70)">LDH&gt;median</text>
<line x1="412.00" y1="602.40" x2="412.00" y2="604.40" stroke="#000" stroke-width="1"/>
<text x="414.00" y="610.70" font-size="5.8" text-anchor="end" font-weight="bold" fill="#000" transform="rotate(-45 414.00 610.70)">MIPI-Low risk</text>
<line x1="429.90" y1="602.40" x2="429.90" y2="604.40" stroke="#000" stroke-width="1"/>
<text x="431.90" y="610.70" font-size="5.8" text-anchor="end" font-weight="bold" fill="#000" transform="rotate(-45 431.90 610.70)">MIPI-Inter risk</text>
<line x1="448.40" y1="602.40" x2="448.40" y2="604.40" stroke="#000" stroke-width="1"/>
<text x="450.40" y="610.70" font-size="5.8" text-anchor="end" font-weight="bold" fill="#000" transform="rotate(-45 450.40 610.70)">MIPI-High risk</text>
<rect x="301.88" y="497.88" width="2.45" height="2.45" fill="none" stroke="#333" stroke-width="0.75"/>
<rect x="301.88" y="505.57" width="2.45" height="2.45" fill="none" stroke="#333" stroke-width="0.75"/>
<rect x="301.88" y="512.98" width="2.45" height="2.45" fill="none" stroke="#333" stroke-width="0.75"/>
<rect x="298.27" y="530.57" width="2.45" height="2.45" fill="none" stroke="#333" stroke-width="0.75"/>
<rect x="301.88" y="532.57" width="2.45" height="2.45" fill="none" stroke="#333" stroke-width="0.75"/>
<rect x="301.88" y="536.77" width="2.45" height="2.45" fill="none" stroke="#333" stroke-width="0.75"/>
<rect x="304.77" y="541.38" width="2.45" height="2.45" fill="none" stroke="#333" stroke-width="0.75"/>
<rect x="298.77" y="542.27" width="2.45" height="2.45" fill="none" stroke="#333" stroke-width="0.75"/>
<rect x="296.27" y="545.77" width="2.45" height="2.45" fill="none" stroke="#333" stroke-width="0.75"/>
<rect x="300.27" y="546.27" width="2.45" height="2.45" fill="none" stroke="#333" stroke-width="0.75"/>
<rect x="304.27" y="545.77" width="2.45" height="2.45" fill="none" stroke="#333" stroke-width="0.75"/>
<rect x="307.27" y="547.77" width="2.45" height="2.45" fill="none" stroke="#333" stroke-width="0.75"/>
<rect x="297.77" y="549.27" width="2.45" height="2.45" fill="none" stroke="#333" stroke-width="0.75"/>
<rect x="301.77" y="549.77" width="2.45" height="2.45" fill="none" stroke="#333" stroke-width="0.75"/>
<rect x="305.77" y="550.77" width="2.45" height="2.45" fill="none" stroke="#333" stroke-width="0.75"/>
<rect x="295.77" y="553.27" width="2.45" height="2.45" fill="none" stroke="#333" stroke-width="0.75"/>
<rect x="299.77" y="554.27" width="2.45" height="2.45" fill="none" stroke="#333" stroke-width="0.75"/>
<rect x="303.77" y="553.77" width="2.45" height="2.45" fill="none" stroke="#333" stroke-width="0.75"/>
<rect x="307.77" y="554.77" width="2.45" height="2.45" fill="none" stroke="#333" stroke-width="0.75"/>
<rect x="297.77" y="557.27" width="2.45" height="2.45" fill="none" stroke="#333" stroke-width="0.75"/>
<rect x="301.77" y="557.77" width="2.45" height="2.45" fill="none" stroke="#333" stroke-width="0.75"/>
<rect x="306.27" y="558.27" width="2.45" height="2.45" fill="none" stroke="#333" stroke-width="0.75"/>
<rect x="296.27" y="560.77" width="2.45" height="2.45" fill="none" stroke="#333" stroke-width="0.75"/>
<rect x="300.27" y="561.27" width="2.45" height="2.45" fill="none" stroke="#333" stroke-width="0.75"/>
<rect x="304.27" y="561.77" width="2.45" height="2.45" fill="none" stroke="#333" stroke-width="0.75"/>
<rect x="307.77" y="561.27" width="2.45" height="2.45" fill="none" stroke="#333" stroke-width="0.75"/>
<rect x="298.27" y="564.77" width="2.45" height="2.45" fill="none" stroke="#333" stroke-width="0.75"/>
<rect x="302.27" y="565.27" width="2.45" height="2.45" fill="none" stroke="#333" stroke-width="0.75"/>
<rect x="306.27" y="564.77" width="2.45" height="2.45" fill="none" stroke="#333" stroke-width="0.75"/>
<rect x="296.27" y="568.27" width="2.45" height="2.45" fill="none" stroke="#333" stroke-width="0.75"/>
<rect x="300.27" y="568.77" width="2.45" height="2.45" fill="none" stroke="#333" stroke-width="0.75"/>
<rect x="304.77" y="569.27" width="2.45" height="2.45" fill="none" stroke="#333" stroke-width="0.75"/>
<rect x="298.27" y="573.67" width="2.45" height="2.45" fill="none" stroke="#333" stroke-width="0.75"/>
<rect x="301.88" y="574.48" width="2.45" height="2.45" fill="none" stroke="#333" stroke-width="0.75"/>
<rect x="301.88" y="577.88" width="2.45" height="2.45" fill="none" stroke="#333" stroke-width="0.75"/>
<line x1="296.50" y1="554.20" x2="309.70" y2="554.20" stroke="#000" stroke-width="1.6"/>
<circle cx="321.10" cy="551.40" r="1.50" fill="#000"/>
<circle cx="317.40" cy="559.50" r="1.50" fill="#000"/>
<circle cx="321.10" cy="560.00" r="1.50" fill="#000"/>
<circle cx="317.40" cy="566.80" r="1.50" fill="#000"/>
<circle cx="324.60" cy="568.30" r="1.50" fill="#000"/>
<circle cx="321.10" cy="569.80" r="1.50" fill="#000"/>
<line x1="314.60" y1="563.40" x2="327.70" y2="563.40" stroke="#000" stroke-width="1.6"/>
<polygon points="337.55,497.48 340.85,497.48 339.20,500.45" fill="none" stroke="#333" stroke-width="0.7"/>
<polygon points="337.55,530.48 340.85,530.48 339.20,533.45" fill="none" stroke="#333" stroke-width="0.7"/>
<polygon points="337.55,536.68 340.85,536.68 339.20,539.65" fill="none" stroke="#333" stroke-width="0.7"/>
<polygon points="337.55,540.88 340.85,540.88 339.20,543.85" fill="none" stroke="#333" stroke-width="0.7"/>
<polygon points="333.75,545.18 337.05,545.18 335.40,548.15" fill="none" stroke="#333" stroke-width="0.7"/>
<polygon points="337.55,545.18 340.85,545.18 339.20,548.15" fill="none" stroke="#333" stroke-width="0.7"/>
<polygon points="341.45,545.88 344.75,545.88 343.10,548.85" fill="none" stroke="#333" stroke-width="0.7"/>
<polygon points="334.35,549.18 337.65,549.18 336.00,552.15" fill="none" stroke="#333" stroke-width="0.7"/>
<polygon points="340.35,549.18 343.65,549.18 342.00,552.15" fill="none" stroke="#333" stroke-width="0.7"/>
<polygon points="337.55,551.68 340.85,551.68 339.20,554.65" fill="none" stroke="#333" stroke-width="0.7"/>
<polygon points="337.55,557.78 340.85,557.78 339.20,560.75" fill="none" stroke="#333" stroke-width="0.7"/>
<polygon points="341.45,557.78 344.75,557.78 343.10,560.75" fill="none" stroke="#333" stroke-width="0.7"/>
<polygon points="333.75,562.08 337.05,562.08 335.40,565.05" fill="none" stroke="#333" stroke-width="0.7"/>
<polygon points="337.55,563.58 340.85,563.58 339.20,566.55" fill="none" stroke="#333" stroke-width="0.7"/>
<polygon points="341.45,563.28 344.75,563.28 343.10,566.25" fill="none" stroke="#333" stroke-width="0.7"/>
<polygon points="337.55,566.68 340.85,566.68 339.20,569.65" fill="none" stroke="#333" stroke-width="0.7"/>
<polygon points="341.45,567.48 344.75,567.48 343.10,570.45" fill="none" stroke="#333" stroke-width="0.7"/>
<polygon points="337.55,569.78 340.85,569.78 339.20,572.75" fill="none" stroke="#333" stroke-width="0.7"/>
<polygon points="337.55,573.58 340.85,573.58 339.20,576.55" fill="none" stroke="#333" stroke-width="0.7"/>
<polygon points="337.55,577.78 340.85,577.78 339.20,580.75" fill="none" stroke="#333" stroke-width="0.7"/>
<polygon points="333.75,555.68 337.05,555.68 335.40,558.65" fill="none" stroke="#333" stroke-width="0.7"/>
<polygon points="341.45,552.68 344.75,552.68 343.10,555.65" fill="none" stroke="#333" stroke-width="0.7"/>
<line x1="332.30" y1="554.50" x2="345.70" y2="554.50" stroke="#000" stroke-width="1.6"/>
<polygon points="355.82,512.30 358.57,512.30 357.20,514.77" fill="#000"/>
<polygon points="355.82,532.70 358.57,532.70 357.20,535.17" fill="#000"/>
<polygon points="352.02,542.00 354.77,542.00 353.40,544.48" fill="#000"/>
<polygon points="359.73,544.60 362.48,544.60 361.10,547.08" fill="#000"/>
<polygon points="355.82,545.70 358.57,545.70 357.20,548.17" fill="#000"/>
<polygon points="352.02,549.20 354.77,549.20 353.40,551.67" fill="#000"/>
<polygon points="359.73,549.20 362.48,549.20 361.10,551.67" fill="#000"/>
<polygon points="355.82,550.00 358.57,550.00 357.20,552.48" fill="#000"/>
<polygon points="352.02,558.40 354.77,558.40 353.40,560.88" fill="#000"/>
<polygon points="355.82,558.40 358.57,558.40 357.20,560.88" fill="#000"/>
<polygon points="359.73,561.90 362.48,561.90 361.10,564.38" fill="#000"/>
<polygon points="352.02,565.40 354.77,565.40 353.40,567.88" fill="#000"/>
<polygon points="355.82,565.40 358.57,565.40 357.20,567.88" fill="#000"/>
<polygon points="359.73,566.90 362.48,566.90 361.10,569.38" fill="#000"/>
<polygon points="352.02,568.40 354.77,568.40 353.40,570.88" fill="#000"/>
<polygon points="355.82,569.90 358.57,569.90 357.20,572.38" fill="#000"/>
<polygon points="355.82,573.80 358.57,573.80 357.20,576.27" fill="#000"/>
<line x1="350.80" y1="557.50" x2="363.80" y2="557.50" stroke="#000" stroke-width="1.6"/>
<circle cx="375.40" cy="531.80" r="1.30" fill="none" stroke="#333" stroke-width="0.8"/>
<circle cx="375.40" cy="538.20" r="1.30" fill="none" stroke="#333" stroke-width="0.8"/>
<circle cx="371.40" cy="547.10" r="1.30" fill="none" stroke="#333" stroke-width="0.8"/>
<circle cx="379.10" cy="547.40" r="1.30" fill="none" stroke="#333" stroke-width="0.8"/>
<circle cx="375.40" cy="550.80" r="1.30" fill="none" stroke="#333" stroke-width="0.8"/>
<circle cx="371.40" cy="554.10" r="1.30" fill="none" stroke="#333" stroke-width="0.8"/>
<circle cx="375.40" cy="553.50" r="1.30" fill="none" stroke="#333" stroke-width="0.8"/>
<circle cx="379.10" cy="552.60" r="1.30" fill="none" stroke="#333" stroke-width="0.8"/>
<circle cx="371.40" cy="559.00" r="1.30" fill="none" stroke="#333" stroke-width="0.8"/>
<circle cx="375.40" cy="560.00" r="1.30" fill="none" stroke="#333" stroke-width="0.8"/>
<circle cx="379.10" cy="559.00" r="1.30" fill="none" stroke="#333" stroke-width="0.8"/>
<circle cx="371.40" cy="563.30" r="1.30" fill="none" stroke="#333" stroke-width="0.8"/>
<circle cx="375.40" cy="564.10" r="1.30" fill="none" stroke="#333" stroke-width="0.8"/>
<circle cx="379.10" cy="563.30" r="1.30" fill="none" stroke="#333" stroke-width="0.8"/>
<circle cx="371.40" cy="567.40" r="1.30" fill="none" stroke="#333" stroke-width="0.8"/>
<circle cx="375.40" cy="568.90" r="1.30" fill="none" stroke="#333" stroke-width="0.8"/>
<circle cx="379.10" cy="568.30" r="1.30" fill="none" stroke="#333" stroke-width="0.8"/>
<circle cx="375.40" cy="574.80" r="1.30" fill="none" stroke="#333" stroke-width="0.8"/>
<circle cx="375.40" cy="579.40" r="1.30" fill="none" stroke="#333" stroke-width="0.8"/>
<line x1="369.20" y1="558.50" x2="382.50" y2="558.50" stroke="#000" stroke-width="1.6"/>
<circle cx="393.50" cy="499.10" r="1.50" fill="#000"/>
<circle cx="393.50" cy="534.20" r="1.50" fill="#000"/>
<circle cx="389.80" cy="543.40" r="1.50" fill="#000"/>
<circle cx="393.50" cy="546.70" r="1.50" fill="#000"/>
<circle cx="396.90" cy="548.00" r="1.50" fill="#000"/>
<circle cx="389.80" cy="549.00" r="1.50" fill="#000"/>
<circle cx="393.50" cy="550.00" r="1.50" fill="#000"/>
<circle cx="389.80" cy="554.80" r="1.50" fill="#000"/>
<circle cx="393.50" cy="555.90" r="1.50" fill="#000"/>
<circle cx="396.90" cy="556.70" r="1.50" fill="#000"/>
<circle cx="393.50" cy="559.60" r="1.50" fill="#000"/>
<circle cx="396.90" cy="560.00" r="1.50" fill="#000"/>
<circle cx="389.80" cy="565.20" r="1.50" fill="#000"/>
<circle cx="393.50" cy="565.20" r="1.50" fill="#000"/>
<circle cx="393.50" cy="575.10" r="1.50" fill="#000"/>
<line x1="387.60" y1="552.20" x2="400.00" y2="552.20" stroke="#000" stroke-width="1.6"/>
<circle cx="412.00" cy="531.80" r="1.50" fill="#000"/>
<circle cx="412.00" cy="538.20" r="1.50" fill="#000"/>
<circle cx="412.00" cy="547.40" r="1.50" fill="#000"/>
<circle cx="412.90" cy="554.50" r="1.50" fill="#000"/>
<circle cx="408.30" cy="551.70" r="1.25" fill="none" stroke="#333" stroke-width="0.8"/>
<circle cx="408.30" cy="565.20" r="1.25" fill="none" stroke="#333" stroke-width="0.8"/>
<circle cx="412.00" cy="563.70" r="1.25" fill="none" stroke="#333" stroke-width="0.8"/>
<circle cx="415.70" cy="567.00" r="1.25" fill="none" stroke="#333" stroke-width="0.8"/>
<circle cx="412.00" cy="569.20" r="1.25" fill="none" stroke="#333" stroke-width="0.8"/>
<line x1="405.50" y1="554.10" x2="418.50" y2="554.10" stroke="#000" stroke-width="1.6"/>
<circle cx="426.20" cy="550.40" r="1.50" fill="#000"/>
<circle cx="429.90" cy="548.90" r="1.50" fill="#000"/>
<circle cx="429.90" cy="554.10" r="1.50" fill="#000"/>
<circle cx="426.20" cy="559.60" r="1.50" fill="#000"/>
<circle cx="429.90" cy="564.10" r="1.50" fill="#000"/>
<circle cx="429.90" cy="568.90" r="1.50" fill="#000"/>
<circle cx="429.90" cy="574.40" r="1.50" fill="#000"/>
<circle cx="429.90" cy="579.40" r="1.50" fill="#000"/>
<line x1="423.10" y1="559.60" x2="436.90" y2="559.60" stroke="#000" stroke-width="1.6"/>
<circle cx="448.40" cy="499.10" r="1.50" fill="#000"/>
<circle cx="448.40" cy="534.50" r="1.50" fill="#000"/>
<circle cx="444.50" cy="546.50" r="1.50" fill="#000"/>
<circle cx="452.00" cy="546.50" r="1.50" fill="#000"/>
<circle cx="448.40" cy="550.40" r="1.50" fill="#000"/>
<circle cx="451.70" cy="554.80" r="1.50" fill="#000"/>
<circle cx="448.40" cy="558.10" r="1.50" fill="#000"/>
<circle cx="448.40" cy="565.20" r="1.50" fill="#000"/>
<circle cx="448.40" cy="575.10" r="1.50" fill="#000"/>
<line x1="441.50" y1="547.40" x2="454.80" y2="547.40" stroke="#000" stroke-width="1.6"/>
<text x="303.50" y="522.20" font-size="4.6" text-anchor="start" fill="#333">p=0.1460</text>
<line x1="302.60" y1="523.90" x2="321.50" y2="523.90" stroke="#333" stroke-width="0.9"/>
<line x1="302.60" y1="522.50" x2="302.60" y2="525.30" stroke="#333" stroke-width="0.9"/>
<line x1="321.50" y1="522.50" x2="321.50" y2="525.30" stroke="#333" stroke-width="0.9"/>
<text x="339.20" y="522.70" font-size="4.6" text-anchor="start" fill="#333">p=0.7712</text>
<line x1="339.20" y1="524.70" x2="358.00" y2="524.70" stroke="#333" stroke-width="0.9"/>
<line x1="339.20" y1="523.30" x2="339.20" y2="526.10" stroke="#333" stroke-width="0.9"/>
<line x1="358.00" y1="523.30" x2="358.00" y2="526.10" stroke="#333" stroke-width="0.9"/>
<text x="374.70" y="514.50" font-size="4.6" text-anchor="start" fill="#333">p=0.1506</text>
<line x1="374.50" y1="516.60" x2="394.00" y2="516.60" stroke="#333" stroke-width="0.9"/>
<line x1="374.50" y1="515.20" x2="374.50" y2="518.00" stroke="#333" stroke-width="0.9"/>
<line x1="394.00" y1="515.20" x2="394.00" y2="518.00" stroke="#333" stroke-width="0.9"/>
<text x="419.40" y="505.80" font-size="4.6" text-anchor="start" fill="#333">p=0.3585</text>
<line x1="410.20" y1="506.20" x2="448.00" y2="506.20" stroke="#333" stroke-width="0.9"/>
<line x1="410.20" y1="504.80" x2="410.20" y2="507.60" stroke="#333" stroke-width="0.9"/>
<line x1="448.00" y1="504.80" x2="448.00" y2="507.60" stroke="#333" stroke-width="0.9"/>
<text x="430.50" y="514.20" font-size="4.6" text-anchor="start" fill="#333">p=0.0601</text>
<line x1="429.50" y1="514.80" x2="448.00" y2="514.80" stroke="#333" stroke-width="0.9"/>
<line x1="429.50" y1="513.40" x2="429.50" y2="516.20" stroke="#333" stroke-width="0.9"/>
<line x1="448.00" y1="513.40" x2="448.00" y2="516.20" stroke="#333" stroke-width="0.9"/>
<text x="411.10" y="522.50" font-size="4.6" text-anchor="start" fill="#333">p=0.1654</text>
<line x1="410.20" y1="523.40" x2="429.50" y2="523.40" stroke="#333" stroke-width="0.9"/>
<line x1="410.20" y1="522.00" x2="410.20" y2="524.80" stroke="#333" stroke-width="0.9"/>
<line x1="429.50" y1="522.00" x2="429.50" y2="524.80" stroke="#333" stroke-width="0.9"/>
<text x="4.60" y="684.00" font-size="14" text-anchor="start" font-weight="bold" stroke="#000" stroke-width="0.15" fill="#000">G</text>
<line x1="51.80" y1="697.50" x2="51.80" y2="804.90" stroke="#000" stroke-width="1.3"/>
<line x1="51.20" y1="804.30" x2="215.50" y2="804.30" stroke="#000" stroke-width="1.3"/>
<line x1="49.60" y1="804.30" x2="51.80" y2="804.30" stroke="#000" stroke-width="1"/>
<text x="49.20" y="806.60" font-size="6.4" text-anchor="end" font-weight="bold" fill="#000">0</text>
<line x1="49.60" y1="783.07" x2="51.80" y2="783.07" stroke="#000" stroke-width="1"/>
<text x="49.20" y="785.37" font-size="6.4" text-anchor="end" font-weight="bold" fill="#000">20</text>
<line x1="49.60" y1="761.85" x2="51.80" y2="761.85" stroke="#000" stroke-width="1"/>
<text x="49.20" y="764.15" font-size="6.4" text-anchor="end" font-weight="bold" fill="#000">40</text>
<line x1="49.60" y1="740.62" x2="51.80" y2="740.62" stroke="#000" stroke-width="1"/>
<text x="49.20" y="742.92" font-size="6.4" text-anchor="end" font-weight="bold" fill="#000">60</text>
<line x1="49.60" y1="719.40" x2="51.80" y2="719.40" stroke="#000" stroke-width="1"/>
<text x="49.20" y="721.70" font-size="6.4" text-anchor="end" font-weight="bold" fill="#000">80</text>
<line x1="49.60" y1="698.17" x2="51.80" y2="698.17" stroke="#000" stroke-width="1"/>
<text x="49.20" y="700.47" font-size="6.4" text-anchor="end" font-weight="bold" fill="#000">100</text>
<line x1="51.80" y1="804.30" x2="51.80" y2="806.50" stroke="#000" stroke-width="1"/>
<text x="51.80" y="812.80" font-size="6.4" text-anchor="middle" font-weight="bold" fill="#000">0</text>
<line x1="84.42" y1="804.30" x2="84.42" y2="806.50" stroke="#000" stroke-width="1"/>
<text x="84.42" y="812.80" font-size="6.4" text-anchor="middle" font-weight="bold" fill="#000">5</text>
<line x1="117.05" y1="804.30" x2="117.05" y2="806.50" stroke="#000" stroke-width="1"/>
<text x="117.05" y="812.80" font-size="6.4" text-anchor="middle" font-weight="bold" fill="#000">10</text>
<line x1="149.68" y1="804.30" x2="149.68" y2="806.50" stroke="#000" stroke-width="1"/>
<text x="149.68" y="812.80" font-size="6.4" text-anchor="middle" font-weight="bold" fill="#000">15</text>
<line x1="182.30" y1="804.30" x2="182.30" y2="806.50" stroke="#000" stroke-width="1"/>
<text x="182.30" y="812.80" font-size="6.4" text-anchor="middle" font-weight="bold" fill="#000">20</text>
<line x1="214.93" y1="804.30" x2="214.93" y2="806.50" stroke="#000" stroke-width="1"/>
<text x="214.93" y="812.80" font-size="6.4" text-anchor="middle" font-weight="bold" fill="#000">25</text>
<text x="133.60" y="823.10" font-size="8.2" text-anchor="middle" font-weight="bold" stroke="#000" stroke-width="0.15" fill="#000">Time (years)</text>
<text x="34.10" y="748.50" font-size="7.6" text-anchor="middle" font-weight="bold" stroke="#000" stroke-width="0.15" fill="#000" transform="rotate(-90 34.10 748.50)">% overall survival (OS)</text>
<polyline points="51.80,698.00 52.80,698.00 52.80,704.40 54.00,704.40 54.00,707.30 56.30,707.30 56.30,711.00 57.40,711.00 57.40,715.00 58.50,715.00 58.50,719.00 59.40,719.00 59.40,724.60 62.30,724.60 62.30,728.00 62.90,728.00 62.90,731.30 66.30,731.30 66.30,735.00 68.20,735.00 68.20,740.80 71.00,740.80 71.00,745.40 73.30,745.40 73.30,748.50 75.00,748.50 75.00,751.50 77.00,751.50 77.00,754.50 78.80,754.50 78.80,757.00 80.20,757.00 80.20,764.60 85.40,764.60 85.40,767.50 87.70,767.50 87.70,768.40 103.30,768.40 103.30,786.30 125.80,786.30 125.80,795.30 185.80,795.30 185.80,804.00" fill="none" stroke="#000" stroke-width="1.2"/>
<polyline points="51.80,698.00 54.50,698.00 54.50,702.70 57.10,702.70 57.10,707.30 58.30,707.30 58.30,711.00 59.30,711.00 59.30,715.00 60.40,715.00 60.40,719.00 61.50,719.00 61.50,722.50 63.00,722.50 63.00,725.50 65.00,725.50 65.00,728.00 67.50,728.00 67.50,731.30 69.20,731.30 69.20,735.00 71.00,735.00 71.00,739.00 72.80,739.00 72.80,742.50 74.50,742.50 74.50,746.50 76.50,746.50 76.50,750.00 78.50,750.00 78.50,753.50 80.50,753.50 80.50,756.00 82.50,756.00 82.50,759.50 84.30,759.50 84.30,763.00 86.00,763.00 86.00,766.00 88.30,766.00 88.30,769.60 90.00,769.60 90.00,770.50 93.50,770.50 93.50,772.00 94.60,772.00 94.60,776.30 102.70,776.30 102.70,786.30 108.50,786.30 108.50,794.40" fill="none" stroke="#000" stroke-width="1.1" stroke-dasharray="2.2,0.9"/>
<rect x="107.36" y="793.26" width="2.28" height="2.28" fill="#000"/>
<line x1="56.00" y1="702.20" x2="56.00" y2="704.60" stroke="#000" stroke-width="0.8"/>
<line x1="61.00" y1="715.20" x2="61.00" y2="717.60" stroke="#000" stroke-width="0.8"/>
<line x1="66.00" y1="726.20" x2="66.00" y2="728.60" stroke="#000" stroke-width="0.8"/>
<line x1="74.00" y1="740.20" x2="74.00" y2="742.60" stroke="#000" stroke-width="0.8"/>
<line x1="83.00" y1="756.20" x2="83.00" y2="758.60" stroke="#000" stroke-width="0.8"/>
<line x1="88.00" y1="766.20" x2="88.00" y2="768.60" stroke="#000" stroke-width="0.8"/>
<line x1="92.00" y1="768.70" x2="92.00" y2="771.10" stroke="#000" stroke-width="0.8"/>
<line x1="96.00" y1="766.60" x2="96.00" y2="769.00" stroke="#000" stroke-width="0.8"/>
<line x1="99.00" y1="766.60" x2="99.00" y2="769.00" stroke="#000" stroke-width="0.8"/>
<line x1="109.50" y1="705.50" x2="116.30" y2="705.50" stroke="#000" stroke-width="1" stroke-dasharray="1.5,1"/>
<polygon points="111.6,705.9 114.2,705.9 112.9,703.4" fill="#000"/>
<line x1="109.50" y1="714.60" x2="116.30" y2="714.60" stroke="#000" stroke-width="1"/>
<polygon points="111.6,715.0 114.2,715.0 112.9,712.5" fill="#000"/>
<text x="119.50" y="707.30" font-size="6.55" text-anchor="start" fill="#222">Short telomeres (&lt;median), n=34</text>
<text x="119.50" y="716.60" font-size="6.55" text-anchor="start" fill="#222">Long telomeres(&gt;median), n= 33</text>
<text x="143.70" y="769.60" font-size="5.95" text-anchor="start" fill="#222">p=0.8174</text>
<text x="268.80" y="686.20" font-size="14" text-anchor="start" font-weight="bold" stroke="#000" stroke-width="0.15" fill="#000">H</text>
<line x1="300.80" y1="697.20" x2="300.80" y2="804.60" stroke="#000" stroke-width="1.3"/>
<line x1="300.20" y1="804.00" x2="464.50" y2="804.00" stroke="#000" stroke-width="1.3"/>
<line x1="298.60" y1="804.00" x2="300.80" y2="804.00" stroke="#000" stroke-width="1"/>
<text x="298.20" y="806.30" font-size="6.4" text-anchor="end" font-weight="bold" fill="#000">0</text>
<line x1="298.60" y1="782.75" x2="300.80" y2="782.75" stroke="#000" stroke-width="1"/>
<text x="298.20" y="785.05" font-size="6.4" text-anchor="end" font-weight="bold" fill="#000">20</text>
<line x1="298.60" y1="761.50" x2="300.80" y2="761.50" stroke="#000" stroke-width="1"/>
<text x="298.20" y="763.80" font-size="6.4" text-anchor="end" font-weight="bold" fill="#000">40</text>
<line x1="298.60" y1="740.25" x2="300.80" y2="740.25" stroke="#000" stroke-width="1"/>
<text x="298.20" y="742.55" font-size="6.4" text-anchor="end" font-weight="bold" fill="#000">60</text>
<line x1="298.60" y1="719.00" x2="300.80" y2="719.00" stroke="#000" stroke-width="1"/>
<text x="298.20" y="721.30" font-size="6.4" text-anchor="end" font-weight="bold" fill="#000">80</text>
<line x1="298.60" y1="697.75" x2="300.80" y2="697.75" stroke="#000" stroke-width="1"/>
<text x="298.20" y="700.05" font-size="6.4" text-anchor="end" font-weight="bold" fill="#000">100</text>
<line x1="300.80" y1="804.00" x2="300.80" y2="806.20" stroke="#000" stroke-width="1"/>
<text x="300.80" y="812.50" font-size="6.4" text-anchor="middle" font-weight="bold" fill="#000">0</text>
<line x1="355.10" y1="804.00" x2="355.10" y2="806.20" stroke="#000" stroke-width="1"/>
<text x="355.10" y="812.50" font-size="6.4" text-anchor="middle" font-weight="bold" fill="#000">5</text>
<line x1="409.40" y1="804.00" x2="409.40" y2="806.20" stroke="#000" stroke-width="1"/>
<text x="409.40" y="812.50" font-size="6.4" text-anchor="middle" font-weight="bold" fill="#000">10</text>
<line x1="463.70" y1="804.00" x2="463.70" y2="806.20" stroke="#000" stroke-width="1"/>
<text x="463.70" y="812.50" font-size="6.4" text-anchor="middle" font-weight="bold" fill="#000">15</text>
<text x="382.60" y="823.30" font-size="8.2" text-anchor="middle" font-weight="bold" stroke="#000" stroke-width="0.15" fill="#000">Time (years)</text>
<text x="283.60" y="749.80" font-size="6.7" text-anchor="middle" font-weight="bold" fill="#000" transform="rotate(-90 283.60 749.80)">% Progression free survival (PFS)</text>
<polyline points="300.80,697.80 308.60,697.80 308.60,705.20 311.70,705.20 311.70,720.20 311.70,727.50 314.60,727.50 314.60,736.20 316.90,736.20 316.90,745.20 320.80,745.20 320.80,762.10 327.10,762.10 327.10,772.00 329.40,772.00 329.40,787.50 433.20,787.50 433.20,804.00" fill="none" stroke="#000" stroke-width="1.1"/>
<polyline points="300.80,697.80 302.50,697.80 302.50,705.00 304.00,705.00 304.00,711.30 309.40,711.30 309.40,720.20 317.50,720.20 317.50,728.50 319.80,728.50 319.80,736.70 322.70,736.70 322.70,745.40 323.70,745.40 323.70,758.00 324.80,758.00 324.80,761.50 327.70,761.50 327.70,770.80 328.80,770.80 328.80,779.00 329.60,779.00 329.60,787.50 345.60,787.50 345.60,795.30 350.80,795.30 350.80,804.00" fill="none" stroke="#000" stroke-width="1.0" stroke-dasharray="2,1"/>
<line x1="305.00" y1="709.50" x2="305.00" y2="711.90" stroke="#000" stroke-width="0.8"/>
<line x1="307.50" y1="709.50" x2="307.50" y2="711.90" stroke="#000" stroke-width="0.8"/>
<line x1="314.00" y1="718.40" x2="314.00" y2="720.80" stroke="#000" stroke-width="0.8"/>
<line x1="375.00" y1="785.70" x2="375.00" y2="788.10" stroke="#000" stroke-width="0.8"/>
<line x1="348.30" y1="702.30" x2="353.80" y2="702.30" stroke="#000" stroke-width="1" stroke-dasharray="1.5,1"/>
<polygon points="349.8,702.7 352.4,702.7 351.1,700.2" fill="#000"/>
<line x1="348.30" y1="712.80" x2="353.80" y2="712.80" stroke="#000" stroke-width="1"/>
<polygon points="349.8,713.2 352.4,713.2 351.1,710.7" fill="#000"/>
<text x="358.00" y="704.10" font-size="6.65" text-anchor="start" fill="#222">Short telomeres (&lt;median), n=15</text>
<text x="358.00" y="714.80" font-size="6.65" text-anchor="start" fill="#222">Long telomeres (&gt;median), n=14</text>
<text x="383.00" y="769.10" font-size="5.95" text-anchor="start" fill="#222">p=0.8644</text>
</svg></body></html>
